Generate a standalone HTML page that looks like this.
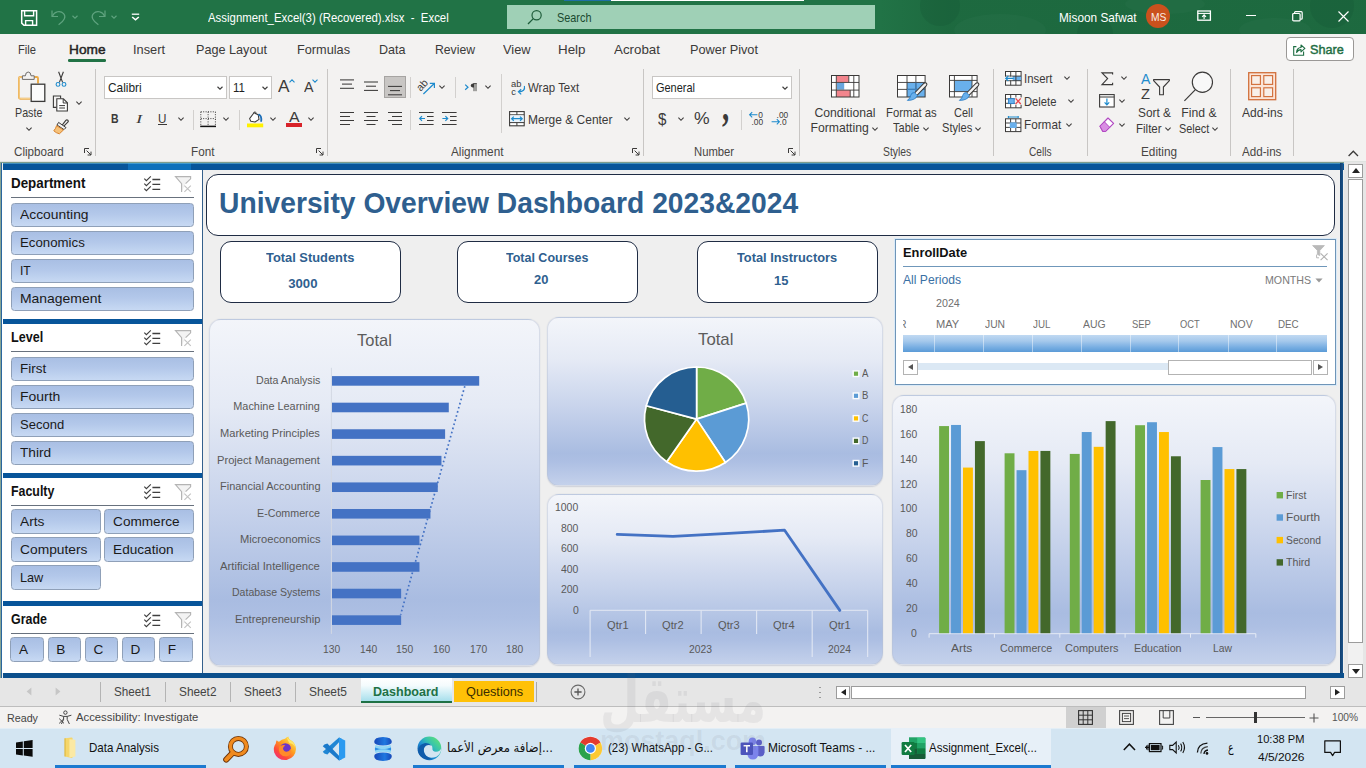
<!DOCTYPE html>
<html><head><meta charset="utf-8"><title>Assignment_Excel(3) (Recovered).xlsx - Excel</title>
<style>
html,body{margin:0;padding:0;}
body{width:1366px;height:768px;overflow:hidden;position:relative;background:#f3f2f1;font-family:"Liberation Sans","Noto Sans CJK SC",sans-serif;}
.t{position:absolute;white-space:pre;line-height:1;transform-origin:0 0;}
svg{overflow:visible}
.sb{position:absolute;border:1px solid #8fa0b8;border-radius:3.5px;box-sizing:border-box;background:linear-gradient(#a9bfe4 0%,#b3c8ea 45%,#c7d9f3 100%);}
.panel{position:absolute;box-sizing:border-box;border-radius:12px;border:1px solid rgba(185,192,210,.45);box-shadow:0 0.6px 1.2px rgba(90,105,140,.22);background:linear-gradient(#f3f5fa 0%,#e5eaf5 25%,#c6d2eb 55%,#a9bce1 81%,#adbfe3 86%,#c4d1eb 100%);}
.kpi{position:absolute;box-sizing:border-box;border:1.6px solid #1f2c44;border-radius:11px;background:#fff;}
.vs{position:absolute;width:1px;background:#c8c6c4;}
</style></head><body>
<div style="position:absolute;left:0.00px;top:0.00px;width:1366.00px;height:34.00px;background:#217346;"></div>
<div style="position:absolute;left:880.00px;top:0.00px;width:486.00px;height:34.00px;background:linear-gradient(90deg,rgba(24,92,54,0) 0%,rgba(24,92,54,.42) 14%,rgba(24,92,54,.42) 100%);"></div>
<svg style="position:absolute;left:880.00px;top:0.00px;overflow:hidden;" width="486" height="34" viewBox="0 0 486 34"><g fill="#256f47" opacity="0.5"><ellipse cx="120" cy="30" rx="46" ry="16"/><ellipse cx="285" cy="4" rx="40" ry="10"/><ellipse cx="395" cy="30" rx="36" ry="12"/></g><g fill="#185a36" opacity="0.35"><circle cx="60" cy="6" r="20"/><circle cx="215" cy="34" r="18"/><circle cx="452" cy="6" r="22"/></g></svg>
<div style="position:absolute;left:564.00px;top:0.00px;width:47.00px;height:1.00px;background:#1f6fa5;"></div>
<div style="position:absolute;left:611.00px;top:0.00px;width:193.00px;height:1.00px;background:#ffffff;"></div>
<svg style="position:absolute;left:20.00px;top:9.00px;" width="18" height="18" viewBox="0 0 18 18"><path d="M1.7 1.7 H16.6 V16.3 H3.9 L1.7 14.1 Z" fill="none" stroke="#fff" stroke-width="1.5" stroke-linejoin="miter"/><path d="M4.6 1.7 V6.8 H13.6 V1.7" fill="none" stroke="#fff" stroke-width="1.4"/><path d="M5.6 16.3 V11.6 H12.6 V16.3" fill="none" stroke="#fff" stroke-width="1.4"/></svg>
<svg style="position:absolute;left:50.00px;top:8.00px;" width="18" height="18" viewBox="0 0 18 18"><path d="M2 2.5 V8.5 H8" fill="none" stroke="#5fa37f" stroke-width="1.2"/><path d="M2.3 8.2 C4.5 3.2 10.5 2.2 13.6 5.6 C16.3 8.6 14.6 12.6 8.6 16.8" fill="none" stroke="#5fa37f" stroke-width="1.2"/></svg>
<svg style="position:absolute;left:69.50px;top:12.50px;" width="10" height="8" viewBox="0 0 10 8"><path d="M2.5 2.75 L5 5.25 L7.5 2.75" fill="none" stroke="#5fa37f" stroke-width="1.1"/></svg>
<svg style="position:absolute;left:89.00px;top:8.00px;" width="18" height="18" viewBox="0 0 18 18"><path d="M16 2.5 V8.5 H10" fill="none" stroke="#5fa37f" stroke-width="1.2"/><path d="M15.7 8.2 C13.5 3.2 7.5 2.2 4.4 5.6 C1.7 8.6 3.4 12.6 9.4 16.8" fill="none" stroke="#5fa37f" stroke-width="1.2"/></svg>
<svg style="position:absolute;left:108.50px;top:12.50px;" width="10" height="8" viewBox="0 0 10 8"><path d="M2.5 2.75 L5 5.25 L7.5 2.75" fill="none" stroke="#5fa37f" stroke-width="1.1"/></svg>
<svg style="position:absolute;left:130.00px;top:12.00px;" width="11" height="11" viewBox="0 0 11 11"><path d="M1.8 2.2 H9.2" stroke="#fff" stroke-width="1.3"/><path d="M2.2 5 L5.5 7.8 L8.8 5" fill="none" stroke="#fff" stroke-width="1.6"/></svg>
<span class="t" style="left:207.50px;top:12.00px;font-size:12.2px;color:#fff;transform:scaleX(0.9354);">Assignment_Excel(3) (Recovered).xlsx  -  Excel</span>
<div style="position:absolute;left:507.00px;top:5.00px;width:368.00px;height:24.00px;background:#9fd0b6;"></div>
<svg style="position:absolute;left:527.00px;top:9.00px;" width="16" height="16" viewBox="0 0 16 16"><circle cx="9.6" cy="6.2" r="4.6" fill="none" stroke="#1e5c3a" stroke-width="1.2"/><path d="M6.3 9.6 L1 15" stroke="#1e5c3a" stroke-width="1.3"/></svg>
<span class="t" style="left:557.00px;top:12.00px;font-size:12.2px;color:#1a4a30;transform:scaleX(0.8925);">Search</span>
<span class="t" style="left:1059.00px;top:12.00px;font-size:12.2px;color:#fff;transform:scaleX(0.9698);">Misoon Safwat</span>
<div style="position:absolute;left:1146.30px;top:4.40px;width:24.00px;height:24.00px;border-radius:50%;background:#ca511d;"></div>
<span class="t" style="left:1150.60px;top:12.00px;font-size:11.4px;color:#fbeee6;transform:scaleX(0.9005);">MS</span>
<svg style="position:absolute;left:1197.40px;top:10.20px;" width="15" height="12" viewBox="0 0 15 12"><rect x=".8" y="1" width="12.6" height="9.2" fill="none" stroke="#fff" stroke-width="1.3"/><path d="M.8 3.4 H13.4" stroke="#fff" stroke-width="1.1"/><path d="M7.1 9 V5.2 M5.2 6.8 L7.1 4.9 L9 6.8" fill="none" stroke="#fff" stroke-width="1.1"/></svg>
<div style="position:absolute;left:1246.00px;top:15.20px;width:10.00px;height:1.20px;background:#fff;"></div>
<svg style="position:absolute;left:1291.60px;top:10.80px;" width="11" height="11" viewBox="0 0 11 11"><rect x=".7" y="2.5" width="7.4" height="7.4" rx="1" fill="none" stroke="#fff" stroke-width="1.2"/><path d="M2.6 2.4 V1.6 Q2.6 .7 3.5 .7 H9.2 Q10.2 .7 10.2 1.7 V7.2 Q10.2 8.1 9.3 8.1 H8.4" fill="none" stroke="#fff" stroke-width="1.2"/></svg>
<svg style="position:absolute;left:1337.50px;top:10.80px;" width="11" height="11" viewBox="0 0 11 11"><path d="M.5 .5 L10.5 10.5 M10.5 .5 L.5 10.5" stroke="#fff" stroke-width="1.15"/></svg>
<span class="t" style="left:17.50px;top:43.00px;font-size:13px;color:#3b3a39;transform:scaleX(0.8593);">File</span>
<span class="t" style="left:68.50px;top:43.00px;font-size:13px;color:#252423;transform:scaleX(1.0525);-webkit-text-stroke:0.45px #252423;">Home</span>
<span class="t" style="left:133.00px;top:43.00px;font-size:13px;color:#3b3a39;transform:scaleX(0.9842);">Insert</span>
<span class="t" style="left:196.00px;top:43.00px;font-size:13px;color:#3b3a39;transform:scaleX(0.9725);">Page Layout</span>
<span class="t" style="left:297.00px;top:43.00px;font-size:13px;color:#3b3a39;transform:scaleX(0.9782);">Formulas</span>
<span class="t" style="left:379.00px;top:43.00px;font-size:13px;color:#3b3a39;transform:scaleX(0.9650);">Data</span>
<span class="t" style="left:435.00px;top:43.00px;font-size:13px;color:#3b3a39;transform:scaleX(0.9384);">Review</span>
<span class="t" style="left:502.50px;top:43.00px;font-size:13px;color:#3b3a39;transform:scaleX(0.9841);">View</span>
<span class="t" style="left:557.50px;top:43.00px;font-size:13px;color:#3b3a39;transform:scaleX(1.0285);">Help</span>
<span class="t" style="left:614.00px;top:43.00px;font-size:13px;color:#3b3a39;transform:scaleX(1.0267);">Acrobat</span>
<span class="t" style="left:690.00px;top:43.00px;font-size:13px;color:#3b3a39;transform:scaleX(0.9803);">Power Pivot</span>
<div style="position:absolute;left:68.00px;top:59.00px;width:38.00px;height:2.60px;background:#217346;border-radius:1.3px;"></div>
<div style="position:absolute;left:1286.20px;top:36.80px;width:67.60px;height:24.00px;box-sizing:border-box;border:1px solid #9a9896;border-radius:4px;background:#fff;"></div>
<svg style="position:absolute;left:1293.20px;top:42.60px;" width="13" height="13" viewBox="0 0 13 13"><path d="M3.4 3.6 H.7 V12.2 H10.6 V8.4" fill="none" stroke="#1e6e43" stroke-width="1.1"/><path d="M3.6 9.4 C3.8 6.2 5.6 4.6 8 4.5 V2 L11.9 5.4 L8 8.8 V6.6 C6 6.6 4.6 7.6 3.6 9.4 Z" fill="none" stroke="#1e6e43" stroke-width="1.1" stroke-linejoin="round"/></svg>
<span class="t" style="left:1310.00px;top:43.00px;font-size:13.2px;color:#1e6e43;transform:scaleX(0.9595);-webkit-text-stroke:0.45px #1e6e43;">Share</span>
<div style="position:absolute;left:94.80px;top:68.50px;width:1.00px;height:87.00px;background:#c8c6c4;"></div>
<div style="position:absolute;left:326.80px;top:68.50px;width:1.00px;height:87.00px;background:#c8c6c4;"></div>
<div style="position:absolute;left:642.90px;top:68.50px;width:1.00px;height:87.00px;background:#c8c6c4;"></div>
<div style="position:absolute;left:799.00px;top:68.50px;width:1.00px;height:87.00px;background:#c8c6c4;"></div>
<div style="position:absolute;left:993.10px;top:68.50px;width:1.00px;height:87.00px;background:#c8c6c4;"></div>
<div style="position:absolute;left:1087.20px;top:68.50px;width:1.00px;height:87.00px;background:#c8c6c4;"></div>
<div style="position:absolute;left:1229.80px;top:68.50px;width:1.00px;height:87.00px;background:#c8c6c4;"></div>
<div style="position:absolute;left:1292.80px;top:68.50px;width:1.00px;height:87.00px;background:#c8c6c4;"></div>
<span class="t" style="left:14.40px;top:146.00px;font-size:12px;color:#484644;transform:scaleX(0.9695);">Clipboard</span>
<span class="t" style="left:191.10px;top:146.00px;font-size:12px;color:#484644;transform:scaleX(0.9745);">Font</span>
<span class="t" style="left:451.20px;top:146.00px;font-size:12px;color:#484644;transform:scaleX(0.9838);">Alignment</span>
<span class="t" style="left:693.50px;top:146.00px;font-size:12px;color:#484644;transform:scaleX(0.9395);">Number</span>
<span class="t" style="left:882.50px;top:146.00px;font-size:12px;color:#484644;transform:scaleX(0.8630);">Styles</span>
<span class="t" style="left:1028.50px;top:146.00px;font-size:12px;color:#484644;transform:scaleX(0.8473);">Cells</span>
<span class="t" style="left:1140.60px;top:146.00px;font-size:12px;color:#484644;transform:scaleX(0.9811);">Editing</span>
<span class="t" style="left:1242.40px;top:146.00px;font-size:12px;color:#484644;transform:scaleX(0.9683);">Add-ins</span>
<svg style="position:absolute;left:84.40px;top:148.20px;" width="8" height="8" viewBox="0 0 8 8"><path d="M.5 5 V.5 H5" fill="none" stroke="#3b3a39" stroke-width="1"/><path d="M2.6 2.6 L7 7 M7 3.6 V7 H3.6" fill="none" stroke="#3b3a39" stroke-width="1"/></svg>
<svg style="position:absolute;left:315.80px;top:148.20px;" width="8" height="8" viewBox="0 0 8 8"><path d="M.5 5 V.5 H5" fill="none" stroke="#3b3a39" stroke-width="1"/><path d="M2.6 2.6 L7 7 M7 3.6 V7 H3.6" fill="none" stroke="#3b3a39" stroke-width="1"/></svg>
<svg style="position:absolute;left:631.80px;top:148.20px;" width="8" height="8" viewBox="0 0 8 8"><path d="M.5 5 V.5 H5" fill="none" stroke="#3b3a39" stroke-width="1"/><path d="M2.6 2.6 L7 7 M7 3.6 V7 H3.6" fill="none" stroke="#3b3a39" stroke-width="1"/></svg>
<svg style="position:absolute;left:787.80px;top:148.20px;" width="8" height="8" viewBox="0 0 8 8"><path d="M.5 5 V.5 H5" fill="none" stroke="#3b3a39" stroke-width="1"/><path d="M2.6 2.6 L7 7 M7 3.6 V7 H3.6" fill="none" stroke="#3b3a39" stroke-width="1"/></svg>
<svg style="position:absolute;left:1347.50px;top:150.20px;" width="11" height="7" viewBox="0 0 11 7"><path d="M.6 6 L5.3 1.2 L10 6" fill="none" stroke="#3b3a39" stroke-width="1.3"/></svg>
<svg style="position:absolute;left:17.00px;top:71.00px;" width="29" height="31" viewBox="0 0 29 31"><path d="M5.6 6 H3.2 Q2 6 2 7.2 V26.6 Q2 27.8 3.2 27.8 H13.4" fill="none" stroke="#ecab47" stroke-width="1.9"/><path d="M17 6 H19.8 Q21 6 21 7.2 V12.6" fill="none" stroke="#ecab47" stroke-width="1.9"/><path d="M5.6 6.1 H3.4 Q2.2 6.1 2.2 7.3 V26.4 Q2.2 27.6 3.4 27.6 H13.4" fill="none" stroke="#fbe2b0" stroke-width=".7"/>
<path d="M5.4 8.4 V4.8 H8.4 Q8.6 1 11.2 1 Q13.8 1 14 4.8 H17.2 V8.4 Z" fill="#f3f2f1" stroke="#6e6c6a" stroke-width="1" stroke-linejoin="round"/>
<rect x="14.2" y="13.2" width="13.6" height="17.2" fill="#fbfbfb" stroke="#3b3a39" stroke-width="1.3"/></svg>
<span class="t" style="left:15.40px;top:107.00px;font-size:12.2px;color:#3b3a39;transform:scaleX(0.8783);">Paste</span>
<svg style="position:absolute;left:23.60px;top:124.60px;" width="10" height="8" viewBox="0 0 10 8"><path d="M2.4 2.7 L5 5.3 L7.6 2.7" fill="none" stroke="#3b3a39" stroke-width="1.1"/></svg>
<svg style="position:absolute;left:55.00px;top:71.00px;" width="12" height="17" viewBox="0 0 12 17"><path d="M3.6 .8 L7.6 11.4 M8.4 .8 L4.4 11.4" stroke="#3b3a39" stroke-width="1.1" fill="none"/><circle cx="3" cy="13.4" r="1.9" fill="none" stroke="#1e8bcd" stroke-width="1.1"/><circle cx="9" cy="13.4" r="1.9" fill="none" stroke="#1e8bcd" stroke-width="1.1"/></svg>
<svg style="position:absolute;left:52.00px;top:94.50px;" width="17" height="17" viewBox="0 0 17 17"><path d="M4.6 12.4 H1.4 V1 H8.6 V3.6" fill="none" stroke="#3b3a39" stroke-width="1.1"/><path d="M4.8 3.8 H11.4 L15.4 7.8 V16 H4.8 Z" fill="#fff" stroke="#3b3a39" stroke-width="1.1"/><path d="M11.2 4 V8 H15.2" fill="none" stroke="#3b3a39" stroke-width="1"/><path d="M7.2 10.6 H13 M7.2 13 H13" stroke="#3b3a39" stroke-width="1"/></svg>
<svg style="position:absolute;left:73.50px;top:99.00px;" width="10" height="8" viewBox="0 0 10 8"><path d="M2.4 2.7 L5 5.3 L7.6 2.7" fill="none" stroke="#3b3a39" stroke-width="1.1"/></svg>
<svg style="position:absolute;left:53.00px;top:118.50px;" width="17" height="16" viewBox="0 0 17 16"><path d="M9.2 6.2 L12.8 1.4 Q13.8 .4 14.8 1.2 Q15.8 2.2 14.8 3.2 L10.6 7.4" fill="none" stroke="#3b3a39" stroke-width="1.1"/><path d="M5.6 3.4 L13 8.6 L11 10.6 L4 6 Z" fill="#f3f2f1" stroke="#3b3a39" stroke-width="1"/><path d="M3.6 6.6 L10.4 11 L6.4 14.8 Q3 14 .8 11.8 Q2.8 9.6 3.6 6.6 Z" fill="#f6c27a" stroke="#d9822b" stroke-width="1"/></svg>
<div style="position:absolute;left:104.30px;top:76.40px;width:122.40px;height:22.40px;box-sizing:border-box;border:1px solid #c8c6c4;background:#fff;"></div>
<span class="t" style="left:107.60px;top:82.00px;font-size:12.2px;color:#201f1e;transform:scaleX(0.9718);">Calibri</span>
<svg style="position:absolute;left:215.20px;top:84.00px;" width="10" height="8" viewBox="0 0 10 8"><path d="M2.5 2.75 L5 5.25 L7.5 2.75" fill="none" stroke="#3b3a39" stroke-width="1.1"/></svg>
<div style="position:absolute;left:229.30px;top:76.40px;width:42.50px;height:22.40px;box-sizing:border-box;border:1px solid #c8c6c4;background:#fff;"></div>
<span class="t" style="left:232.70px;top:82.00px;font-size:12.2px;color:#201f1e;transform:scaleX(0.9396);">11</span>
<svg style="position:absolute;left:260.40px;top:84.00px;" width="10" height="8" viewBox="0 0 10 8"><path d="M2.5 2.75 L5 5.25 L7.5 2.75" fill="none" stroke="#3b3a39" stroke-width="1.1"/></svg>
<span class="t" style="left:277.60px;top:78.00px;font-size:17px;color:#3b3a39;transform:scaleX(1.0142);">A</span>
<svg style="position:absolute;left:288.50px;top:78.50px;" width="6" height="4" viewBox="0 0 6 4"><path d="M.5 3.4 L3 .8 L5.5 3.4" fill="none" stroke="#1e8bcd" stroke-width="1.1"/></svg>
<span class="t" style="left:303.80px;top:80.00px;font-size:14px;color:#3b3a39;transform:scaleX(1.0173);">A</span>
<svg style="position:absolute;left:312.20px;top:78.80px;" width="6" height="4" viewBox="0 0 6 4"><path d="M.5 .6 L3 3.2 L5.5 .6" fill="none" stroke="#1e8bcd" stroke-width="1.1"/></svg>
<span class="t" style="left:111.40px;top:112.00px;font-size:13.2px;color:#3b3a39;font-weight:bold;transform:scaleX(0.7972);">B</span>
<span class="t" style="left:136.20px;top:112.00px;font-size:13.4px;color:#3b3a39;font-style:italic;transform:scaleX(1.3968);font-family:&quot;Liberation Serif&quot;,serif;">I</span>
<span class="t" style="left:158.20px;top:112.00px;font-size:13px;color:#3b3a39;transform:scaleX(0.8947);">U</span>
<div style="position:absolute;left:158.00px;top:124.20px;width:8.80px;height:1.00px;background:#3b3a39;"></div>
<svg style="position:absolute;left:175.80px;top:115.20px;" width="10" height="8" viewBox="0 0 10 8"><path d="M2.4 2.7 L5 5.3 L7.6 2.7" fill="none" stroke="#3b3a39" stroke-width="1.1"/></svg>
<div style="position:absolute;left:193.00px;top:109.50px;width:1.00px;height:20.00px;background:#d2d0ce;"></div>
<svg style="position:absolute;left:200.40px;top:110.80px;" width="17" height="17" viewBox="0 0 17 17"><path d="M.8 .8 H15.4 M.8 .8 V15 M15.4 .8 V15 M8.1 .8 V15 M.8 7.6 H15.4" stroke="#3b3a39" stroke-width="1" stroke-dasharray="1 1.4" fill="none"/><path d="M.2 15.4 H16" stroke="#111" stroke-width="1.5"/></svg>
<svg style="position:absolute;left:221.20px;top:115.20px;" width="10" height="8" viewBox="0 0 10 8"><path d="M2.4 2.7 L5 5.3 L7.6 2.7" fill="none" stroke="#3b3a39" stroke-width="1.1"/></svg>
<div style="position:absolute;left:239.00px;top:109.50px;width:1.00px;height:20.00px;background:#d2d0ce;"></div>
<svg style="position:absolute;left:247.00px;top:110.50px;" width="17" height="17" viewBox="0 0 17 17"><path d="M2.6 7.6 L7 1.8 L11.2 3.8 L12 8.4 L8 11 L3.8 10.2 Z" fill="#fff" stroke="#3b3a39" stroke-width="1.05" stroke-linejoin="round"/><path d="M6.6 2.4 Q7 .4 8.4 .9 Q9.4 1.6 8.6 3" fill="none" stroke="#3b3a39" stroke-width=".9"/><path d="M12 3.6 Q14.8 5.2 14.2 10" fill="none" stroke="#1e6fb8" stroke-width="1.8" stroke-linecap="round"/><rect x="0" y="12.5" width="16.2" height="3.8" fill="#fff100"/></svg>
<svg style="position:absolute;left:267.80px;top:115.20px;" width="10" height="8" viewBox="0 0 10 8"><path d="M2.4 2.7 L5 5.3 L7.6 2.7" fill="none" stroke="#3b3a39" stroke-width="1.1"/></svg>
<span class="t" style="left:289.00px;top:110.00px;font-size:14.6px;color:#3b3a39;transform:scaleX(1.0884);">A</span>
<div style="position:absolute;left:286.20px;top:123.00px;width:15.80px;height:3.80px;background:#d8232a;"></div>
<svg style="position:absolute;left:306.40px;top:115.20px;" width="10" height="8" viewBox="0 0 10 8"><path d="M2.4 2.7 L5 5.3 L7.6 2.7" fill="none" stroke="#3b3a39" stroke-width="1.1"/></svg>
<svg style="position:absolute;left:340.00px;top:76.00px;" width="15" height="22" viewBox="0 0 15 22"><path d="M0.0 3.9 H14.0" stroke="#3b3a39" stroke-width="1.05"/><path d="M2.0 8.1 H12.0" stroke="#3b3a39" stroke-width="1.05"/><path d="M0.0 12.3 H14.0" stroke="#3b3a39" stroke-width="1.05"/></svg>
<svg style="position:absolute;left:364.00px;top:76.00px;" width="15" height="22" viewBox="0 0 15 22"><path d="M0.0 6 H14.0" stroke="#3b3a39" stroke-width="1.05"/><path d="M2.0 10.2 H12.0" stroke="#3b3a39" stroke-width="1.05"/><path d="M0.0 14.4 H14.0" stroke="#3b3a39" stroke-width="1.05"/></svg>
<div style="position:absolute;left:384.30px;top:76.00px;width:21.60px;height:22.30px;box-sizing:border-box;background:#c8c6c4;border:1px solid #a6a4a2;"></div>
<svg style="position:absolute;left:388.00px;top:76.00px;" width="15" height="22" viewBox="0 0 15 22"><path d="M0.0 10.4 H14.0" stroke="#3b3a39" stroke-width="1.05"/><path d="M2.0 14.6 H12.0" stroke="#3b3a39" stroke-width="1.05"/><path d="M0.0 18.8 H14.0" stroke="#3b3a39" stroke-width="1.05"/></svg>
<div style="position:absolute;left:410.00px;top:77.00px;width:1.00px;height:20.50px;background:#d2d0ce;"></div>
<svg style="position:absolute;left:418.00px;top:78.50px;" width="18" height="17" viewBox="0 0 18 17"><text x="-1.4" y="9.4" font-size="10.4" font-family="Liberation Sans,sans-serif" fill="#3b3a39" transform="rotate(-48 4.6 6.4)">ab</text><path d="M5.4 15 L16 4.8 M11.8 4.4 H16.4 V9" fill="none" stroke="#1e8bcd" stroke-width="1.2"/></svg>
<svg style="position:absolute;left:436.60px;top:83.40px;" width="10" height="8" viewBox="0 0 10 8"><path d="M2.4 2.7 L5 5.3 L7.6 2.7" fill="none" stroke="#3b3a39" stroke-width="1.1"/></svg>
<div style="position:absolute;left:455.00px;top:77.00px;width:1.00px;height:20.50px;background:#d2d0ce;"></div>
<svg style="position:absolute;left:464.00px;top:81.00px;" width="14" height="12" viewBox="0 0 14 12"><path d="M1.2 3.6 L4 6.2 L1.2 8.8" fill="none" stroke="#1e8bcd" stroke-width="1.2"/><path d="M10 2.6 V10.2 M12 2.6 V10.2 M12.8 2.6 H9.4" fill="none" stroke="#3b3a39" stroke-width=".9"/><path d="M10 2.6 H9.2 Q6.8 2.6 6.8 4.6 Q6.8 6.6 10 6.6 Z" fill="#3b3a39"/></svg>
<svg style="position:absolute;left:483.40px;top:83.40px;" width="10" height="8" viewBox="0 0 10 8"><path d="M2.4 2.7 L5 5.3 L7.6 2.7" fill="none" stroke="#3b3a39" stroke-width="1.1"/></svg>
<div style="position:absolute;left:501.00px;top:74.00px;width:1.00px;height:58.50px;background:#d2d0ce;"></div>
<svg style="position:absolute;left:340.00px;top:110.00px;" width="15" height="17" viewBox="0 0 15 17"><path d="M0 2.5 H14" stroke="#3b3a39" stroke-width="1.05"/><path d="M0 6.5 H10" stroke="#3b3a39" stroke-width="1.05"/><path d="M0 10.5 H14" stroke="#3b3a39" stroke-width="1.05"/><path d="M0 14.5 H10" stroke="#3b3a39" stroke-width="1.05"/></svg>
<svg style="position:absolute;left:364.00px;top:110.00px;" width="15" height="17" viewBox="0 0 15 17"><path d="M0.0 2.5 H14.0" stroke="#3b3a39" stroke-width="1.05"/><path d="M2.5 6.5 H11.5" stroke="#3b3a39" stroke-width="1.05"/><path d="M0.0 10.5 H14.0" stroke="#3b3a39" stroke-width="1.05"/><path d="M2.5 14.5 H11.5" stroke="#3b3a39" stroke-width="1.05"/></svg>
<svg style="position:absolute;left:388.00px;top:110.00px;" width="15" height="17" viewBox="0 0 15 17"><path d="M0 2.5 H14" stroke="#3b3a39" stroke-width="1.05"/><path d="M4 6.5 H14" stroke="#3b3a39" stroke-width="1.05"/><path d="M0 10.5 H14" stroke="#3b3a39" stroke-width="1.05"/><path d="M4 14.5 H14" stroke="#3b3a39" stroke-width="1.05"/></svg>
<div style="position:absolute;left:410.00px;top:109.50px;width:1.00px;height:20.00px;background:#d2d0ce;"></div>
<svg style="position:absolute;left:418.60px;top:110.00px;" width="15" height="17" viewBox="0 0 15 17"><path d="M0 2.5 H14.6 M8 6.5 H14.6 M8 10.5 H14.6 M0 14.5 H14.6" stroke="#3b3a39" stroke-width="1.05"/><path d="M6 8.5 H.8 M3 6.2 L.7 8.5 L3 10.8" fill="none" stroke="#1e8bcd" stroke-width="1.2"/></svg>
<svg style="position:absolute;left:442.40px;top:110.00px;" width="15" height="17" viewBox="0 0 15 17"><path d="M0 2.5 H14.6 M8 6.5 H14.6 M8 10.5 H14.6 M0 14.5 H14.6" stroke="#3b3a39" stroke-width="1.05"/><path d="M.4 8.5 H5.6 M3.4 6.2 L5.7 8.5 L3.4 10.8" fill="none" stroke="#1e8bcd" stroke-width="1.2"/></svg>
<svg style="position:absolute;left:511.00px;top:79.50px;" width="15" height="16" viewBox="0 0 15 16"><text x="0" y="6.8" font-size="9.4" font-family="Liberation Sans,sans-serif" fill="#3b3a39">ab</text><text x="0.2" y="15" font-size="9.4" font-family="Liberation Sans,sans-serif" fill="#3b3a39">c</text><path d="M13.4 6 Q14.6 11.6 7.6 11.8 M10.2 9.2 L7.4 11.8 L10.2 14.4" fill="none" stroke="#1e8bcd" stroke-width="1.2"/></svg>
<span class="t" style="left:528.40px;top:82.00px;font-size:12.2px;color:#3b3a39;transform:scaleX(0.9399);">Wrap Text</span>
<svg style="position:absolute;left:508.80px;top:111.00px;" width="16" height="16" viewBox="0 0 16 16"><rect x=".6" y=".6" width="14.6" height="14.2" fill="#fff" stroke="#3b3a39" stroke-width="1.1"/><path d="M.6 3.8 H15.2 M.6 11.6 H15.2 M7.9 .6 V3.8 M7.9 11.6 V14.8" stroke="#3b3a39" stroke-width="1"/><rect x="1.2" y="4.4" width="13.4" height="6.6" fill="#e8f3fc"/><path d="M2.6 7.7 H13.2 M4.8 5.6 L2.6 7.7 L4.8 9.8 M11 5.6 L13.2 7.7 L11 9.8" fill="none" stroke="#1e8bcd" stroke-width="1.2"/></svg>
<span class="t" style="left:528.40px;top:114.00px;font-size:12.2px;color:#3b3a39;transform:scaleX(0.9824);">Merge &amp; Center</span>
<svg style="position:absolute;left:621.50px;top:115.40px;" width="10" height="8" viewBox="0 0 10 8"><path d="M2.4 2.7 L5 5.3 L7.6 2.7" fill="none" stroke="#3b3a39" stroke-width="1.1"/></svg>
<div style="position:absolute;left:651.90px;top:76.40px;width:139.80px;height:22.40px;box-sizing:border-box;border:1px solid #c8c6c4;background:#fff;"></div>
<span class="t" style="left:655.80px;top:82.00px;font-size:12.2px;color:#201f1e;transform:scaleX(0.8985);">General</span>
<svg style="position:absolute;left:780.20px;top:84.00px;" width="10" height="8" viewBox="0 0 10 8"><path d="M2.5 2.75 L5 5.25 L7.5 2.75" fill="none" stroke="#3b3a39" stroke-width="1.1"/></svg>
<span class="t" style="left:658.00px;top:111.00px;font-size:17px;color:#3b3a39;transform:scaleX(0.8884);">$</span>
<svg style="position:absolute;left:675.60px;top:115.40px;" width="10" height="8" viewBox="0 0 10 8"><path d="M2.4 2.7 L5 5.3 L7.6 2.7" fill="none" stroke="#3b3a39" stroke-width="1.1"/></svg>
<span class="t" style="left:694.00px;top:110.00px;font-size:17px;color:#3b3a39;transform:scaleX(1.0321);">%</span>
<span class="t" style="left:722.40px;top:85.00px;font-size:42px;color:#3b3a39;font-weight:bold;transform:scaleX(0.6856);font-family:&quot;Liberation Serif&quot;,serif;">,</span>
<div style="position:absolute;left:741.00px;top:109.50px;width:1.00px;height:20.00px;background:#d2d0ce;"></div>
<svg style="position:absolute;left:748.50px;top:110.50px;" width="16" height="15" viewBox="0 0 16 15"><path d="M8.4 3.8 H.6 M3.2 1.2 L.6 3.8 L3.2 6.4" fill="none" stroke="#1e8bcd" stroke-width="1.05"/><text x="9.2" y="6.6" font-size="8.4" font-family="Liberation Sans,sans-serif" fill="#3b3a39">0</text><text x="2.4" y="14.4" font-size="8.4" font-family="Liberation Sans,sans-serif" fill="#3b3a39">.00</text></svg>
<svg style="position:absolute;left:772.40px;top:110.50px;" width="16" height="15" viewBox="0 0 16 15"><text x="4.6" y="6.6" font-size="8.4" font-family="Liberation Sans,sans-serif" fill="#3b3a39">.00</text><path d="M-.4 10.8 H7.4 M4.8 8.2 L7.4 10.8 L4.8 13.4" fill="none" stroke="#1e8bcd" stroke-width="1.05"/><text x="7.6" y="14.4" font-size="8.4" font-family="Liberation Sans,sans-serif" fill="#3b3a39">.0</text></svg>
<svg style="position:absolute;left:831.00px;top:74.80px;" width="28.5" height="22.5" viewBox="0 0 28.5 22.5"><rect x=".5" y=".5" width="27.5" height="21.5" fill="#fff"/><rect x="5.3" y=".5" width="12.4" height="6.9" fill="#f2858d"/><rect x="6" y="8" width="7.2" height="6.6" fill="#69a6de"/><rect x="5.3" y="15.1" width="13.9" height="6.9" fill="#f2858d"/><path d="M.5 7.45 H28 M.5 15.1 H28 M5.3 .5 V22 M22.8 .5 V22 M19.2 15.1 V22 M17.8 .5 V7.4" stroke="#3b3a39" stroke-width=".9" fill="none"/><rect x=".5" y=".5" width="27.5" height="21.5" fill="none" stroke="#3b3a39" stroke-width="1"/></svg>
<span class="t" style="left:814.50px;top:107.00px;font-size:12.2px;color:#3b3a39;">Conditional</span>
<span class="t" style="left:810.50px;top:122.00px;font-size:12.2px;color:#3b3a39;">Formatting</span>
<svg style="position:absolute;left:870.00px;top:124.60px;" width="10" height="8" viewBox="0 0 10 8"><path d="M2.4 2.7 L5 5.3 L7.6 2.7" fill="none" stroke="#3b3a39" stroke-width="1.1"/></svg>
<svg style="position:absolute;left:896.70px;top:74.80px;" width="31" height="28" viewBox="0 0 31 28"><rect x=".5" y=".5" width="27.6" height="21.5" fill="#fff"/><rect x="10" y="7.45" width="18.1" height="14.55" fill="#69b0ec"/><path d="M.5 7.45 H28.1 M.5 14.4 H28.1 M10 .5 V22 M18.9 .5 V22" stroke="#3b3a39" stroke-width=".9" fill="none"/><path d="M10 14.4 H28.1 M18.9 7.45 V22" stroke="#3c8ad0" stroke-width=".9"/><rect x=".5" y=".5" width="27.6" height="21.5" fill="none" stroke="#3b3a39" stroke-width="1"/><g transform="translate(9 7)"><path d="M8.6 11 L18 1.2 Q19.6 .2 20.6 1.4 Q21.4 2.6 20.2 3.8 L11 13.4" fill="#f3f2f1" stroke="#3b3a39" stroke-width="1.05"/><path d="M8.4 10.6 L11.4 13.6 Q9.4 18.4 1.4 18.4 Q4.6 16 4.8 13.2 Q5.4 10.4 8.4 10.6 Z" fill="#69b0ec" stroke="#2b7fc7" stroke-width=".9"/></g></svg>
<span class="t" style="left:885.70px;top:107.00px;font-size:12.2px;color:#3b3a39;transform:scaleX(0.9251);">Format as</span>
<span class="t" style="left:893.00px;top:122.00px;font-size:12.2px;color:#3b3a39;transform:scaleX(0.9051);">Table</span>
<svg style="position:absolute;left:920.60px;top:124.60px;" width="10" height="8" viewBox="0 0 10 8"><path d="M2.4 2.7 L5 5.3 L7.6 2.7" fill="none" stroke="#3b3a39" stroke-width="1.1"/></svg>
<svg style="position:absolute;left:948.80px;top:74.80px;" width="31" height="28" viewBox="0 0 31 28"><rect x=".5" y=".5" width="27.6" height="21.5" fill="#fff"/><rect x="5.4" y="5.4" width="17.6" height="11.2" fill="#69b0ec"/><path d="M.5 5.4 H28.1 M.5 16.6 H28.1 M5.4 .5 V22 M23 .5 V22" stroke="#3b3a39" stroke-width=".9" fill="none"/><rect x=".5" y=".5" width="27.6" height="21.5" fill="none" stroke="#3b3a39" stroke-width="1"/><g transform="translate(9 7)"><path d="M8.6 11 L18 1.2 Q19.6 .2 20.6 1.4 Q21.4 2.6 20.2 3.8 L11 13.4" fill="#f3f2f1" stroke="#3b3a39" stroke-width="1.05"/><path d="M8.4 10.6 L11.4 13.6 Q9.4 18.4 1.4 18.4 Q4.6 16 4.8 13.2 Q5.4 10.4 8.4 10.6 Z" fill="#69b0ec" stroke="#2b7fc7" stroke-width=".9"/></g></svg>
<span class="t" style="left:953.70px;top:107.00px;font-size:12.2px;color:#3b3a39;transform:scaleX(0.8993);">Cell</span>
<span class="t" style="left:942.30px;top:122.00px;font-size:12.2px;color:#3b3a39;transform:scaleX(0.9120);">Styles</span>
<svg style="position:absolute;left:973.40px;top:124.60px;" width="10" height="8" viewBox="0 0 10 8"><path d="M2.4 2.7 L5 5.3 L7.6 2.7" fill="none" stroke="#3b3a39" stroke-width="1.1"/></svg>
<svg style="position:absolute;left:1004.50px;top:70.60px;" width="17" height="15" viewBox="0 0 17 15"><rect x=".5" y=".5" width="15.6" height="13.7" fill="#fff" stroke="#3b3a39" stroke-width="1"/><rect x="7.6" y="5.1" width="8.5" height="4.6" fill="#69b0ec"/><path d="M5.7 .5 V14.2 M10.9 .5 V14.2 M.5 5.1 H16.1 M.5 9.7 H16.1" stroke="#3b3a39" stroke-width=".95"/><rect x="-.3" y="5.7" width="7.6" height="3.4" fill="#f6f9fc"/><path d="M8.6 7.4 H.8 M3.4 4.9 L.8 7.4 L3.4 9.9" fill="none" stroke="#1e8bcd" stroke-width="1.25"/></svg>
<span class="t" style="left:1024.40px;top:73.00px;font-size:12.2px;color:#3b3a39;transform:scaleX(0.9308);">Insert</span>
<svg style="position:absolute;left:1061.80px;top:74.40px;" width="10" height="8" viewBox="0 0 10 8"><path d="M2.4 2.7 L5 5.3 L7.6 2.7" fill="none" stroke="#3b3a39" stroke-width="1.1"/></svg>
<svg style="position:absolute;left:1004.50px;top:93.70px;" width="17" height="15" viewBox="0 0 17 15"><rect x=".5" y=".5" width="15.6" height="13.3" fill="#fff" stroke="#3b3a39" stroke-width="1"/><path d="M5.7 .5 V13.8 M10.9 .5 V13.8 M.5 4.9 H16.1 M.5 9.3 H16.1" stroke="#3b3a39" stroke-width=".95"/><rect x="9.8" y="3.4" width="7.4" height="7.4" fill="#f3f2f1"/><rect x="3.4" y="4.6" width="5.8" height="5" fill="#69b0ec" stroke="#2b7fc7" stroke-width=".9"/><path d="M10.6 4.4 L15.8 10 M15.8 4.4 L10.6 10" stroke="#e8484f" stroke-width="1.3"/></svg>
<span class="t" style="left:1024.40px;top:96.00px;font-size:12.2px;color:#3b3a39;transform:scaleX(0.9216);">Delete</span>
<svg style="position:absolute;left:1065.50px;top:97.40px;" width="10" height="8" viewBox="0 0 10 8"><path d="M2.4 2.7 L5 5.3 L7.6 2.7" fill="none" stroke="#3b3a39" stroke-width="1.1"/></svg>
<svg style="position:absolute;left:1004.70px;top:116.00px;" width="17" height="16" viewBox="0 0 17 16"><path d="M3.4 1 H13.2 M3.4 0 V2.1 M13.2 0 V2.1" stroke="#1e8bcd" stroke-width="1.1" fill="none"/><rect x=".5" y="2.8" width="15.4" height="12.8" fill="#fff" stroke="#3b3a39" stroke-width="1"/><path d="M5.6 2.8 V15.6 M10.8 2.8 V15.6 M.5 7 H15.9 M.5 11.4 H15.9" stroke="#3b3a39" stroke-width=".95"/><rect x="4.8" y="6.4" width="6.8" height="5.6" fill="#69b0ec"/></svg>
<span class="t" style="left:1024.40px;top:119.00px;font-size:12.2px;color:#3b3a39;transform:scaleX(0.9628);">Format</span>
<svg style="position:absolute;left:1063.70px;top:120.60px;" width="10" height="8" viewBox="0 0 10 8"><path d="M2.4 2.7 L5 5.3 L7.6 2.7" fill="none" stroke="#3b3a39" stroke-width="1.1"/></svg>
<svg style="position:absolute;left:1100.50px;top:71.50px;" width="13" height="14" viewBox="0 0 13 14"><path d="M11.6 2.6 V.8 H1 L6.6 6.6 L1 12.6 H11.6 V10.8" fill="none" stroke="#3b3a39" stroke-width="1.15"/></svg>
<svg style="position:absolute;left:1119.30px;top:74.40px;" width="10" height="8" viewBox="0 0 10 8"><path d="M2.4 2.7 L5 5.3 L7.6 2.7" fill="none" stroke="#3b3a39" stroke-width="1.1"/></svg>
<svg style="position:absolute;left:1099.00px;top:94.00px;" width="16" height="14" viewBox="0 0 16 14"><rect x=".6" y=".6" width="14.6" height="12.4" fill="#fff" stroke="#3b3a39" stroke-width="1.1"/><path d="M.6 3 H15.2" stroke="#3b3a39" stroke-width="1"/><path d="M7.9 4.6 V10.6 M5.6 8.4 L7.9 10.8 L10.2 8.4" fill="none" stroke="#1e8bcd" stroke-width="1.2"/></svg>
<svg style="position:absolute;left:1117.40px;top:97.40px;" width="10" height="8" viewBox="0 0 10 8"><path d="M2.4 2.7 L5 5.3 L7.6 2.7" fill="none" stroke="#3b3a39" stroke-width="1.1"/></svg>
<svg style="position:absolute;left:1099.00px;top:116.50px;" width="16" height="15" viewBox="0 0 16 15"><path d="M1 9.2 L9 1 L14.6 6.4 L6.6 14.4 H3.8 Z" fill="#fff" stroke="#b146c2" stroke-width="1.15" stroke-linejoin="round"/><path d="M1 9.2 L5.4 4.8 L10.6 10.2 L6.6 14.4 H3.8 Z" fill="#d98ee3" stroke="#b146c2" stroke-width="1"/></svg>
<svg style="position:absolute;left:1117.40px;top:120.60px;" width="10" height="8" viewBox="0 0 10 8"><path d="M2.4 2.7 L5 5.3 L7.6 2.7" fill="none" stroke="#3b3a39" stroke-width="1.1"/></svg>
<span class="t" style="left:1141.20px;top:72.00px;font-size:14.6px;color:#1e8bcd;transform:scaleX(0.9652);">A</span>
<span class="t" style="left:1141.20px;top:87.00px;font-size:14.6px;color:#3b3a39;transform:scaleX(1.0091);">Z</span>
<svg style="position:absolute;left:1152.60px;top:78.50px;" width="17" height="17" viewBox="0 0 17 17"><path d="M.6 .6 H16.4 V1.6 L10.4 8 V15.8 H6.6 V8 L.6 1.6 Z" fill="none" stroke="#3b3a39" stroke-width="1.1" stroke-linejoin="round"/></svg>
<span class="t" style="left:1138.10px;top:107.00px;font-size:12.2px;color:#3b3a39;transform:scaleX(0.9734);">Sort &amp;</span>
<span class="t" style="left:1136.40px;top:123.00px;font-size:12.2px;color:#3b3a39;transform:scaleX(0.9442);">Filter</span>
<svg style="position:absolute;left:1163.20px;top:124.80px;" width="10" height="8" viewBox="0 0 10 8"><path d="M2.4 2.7 L5 5.3 L7.6 2.7" fill="none" stroke="#3b3a39" stroke-width="1.1"/></svg>
<svg style="position:absolute;left:1184.00px;top:71.00px;" width="30" height="31" viewBox="0 0 30 31"><circle cx="18.4" cy="11.2" r="10.1" fill="#f8f8f8" stroke="#3b3a39" stroke-width="1.15"/><path d="M11.4 18.6 L.4 29.8" stroke="#3b3a39" stroke-width="1.2"/></svg>
<span class="t" style="left:1181.30px;top:107.00px;font-size:12.2px;color:#3b3a39;">Find &amp;</span>
<span class="t" style="left:1178.50px;top:123.00px;font-size:12.2px;color:#3b3a39;transform:scaleX(0.8936);">Select</span>
<svg style="position:absolute;left:1210.40px;top:124.80px;" width="10" height="8" viewBox="0 0 10 8"><path d="M2.4 2.7 L5 5.3 L7.6 2.7" fill="none" stroke="#3b3a39" stroke-width="1.1"/></svg>
<svg style="position:absolute;left:1247.60px;top:71.60px;" width="29" height="29" viewBox="0 0 29 29"><rect x=".7" y=".7" width="27" height="27" fill="#fbe4d7" stroke="#d2703c" stroke-width="1.3"/><g fill="#f8efe9" stroke="#d2703c" stroke-width="1.15"><rect x="3.6" y="3.6" width="8.8" height="8.8"/><rect x="15.8" y="3.6" width="8.8" height="8.8"/><rect x="3.6" y="15.8" width="8.8" height="8.8"/><rect x="15.8" y="15.8" width="8.8" height="8.8"/></g></svg>
<span class="t" style="left:1241.90px;top:107.00px;font-size:12.2px;color:#3b3a39;transform:scaleX(0.9839);">Add-ins</span>
<div style="position:absolute;left:0.00px;top:161.00px;width:1366.00px;height:2.40px;background:#dfe3e0;"></div>
<div style="position:absolute;left:0.00px;top:162.40px;width:1344.00px;height:1.00px;background:#7c9c8d;"></div>
<div style="position:absolute;left:3.00px;top:163.30px;width:1340.50px;height:514.90px;background:#efefef;"></div>
<div style="position:absolute;left:0.00px;top:162.40px;width:1.30px;height:516.00px;background:#86a596;"></div>
<div style="position:absolute;left:1.30px;top:163.30px;width:1.10px;height:515.00px;background:#2a669e;"></div>
<div style="position:absolute;left:3.00px;top:163.30px;width:1340.50px;height:6.30px;background:#07559a;"></div>
<div style="position:absolute;left:128.00px;top:163.30px;width:62.60px;height:6.30px;background:#0d70bb;"></div>
<div style="position:absolute;left:3.00px;top:163.30px;width:1340.50px;height:1.00px;background:#6fc0dc;opacity:.55;"></div>
<div style="position:absolute;left:1339.80px;top:163.30px;width:3.70px;height:515.00px;background:linear-gradient(90deg,#0f3f72,#1f5488);"></div>
<div style="position:absolute;left:3.00px;top:673.30px;width:1340.50px;height:4.90px;background:#0b4f8c;"></div>
<div style="position:absolute;left:1343.50px;top:162.40px;width:22.50px;height:516.00px;background:#e6e6e6;"></div>
<div style="position:absolute;left:1348.00px;top:163.60px;width:15.00px;height:514.60px;background:#f1f1f1;"></div>
<div style="position:absolute;left:1348.00px;top:163.60px;width:15.00px;height:14.00px;box-sizing:border-box;border:1px solid #9c9c9c;background:#fff;"></div>
<svg style="position:absolute;left:1351.50px;top:167.80px;" width="8" height="5" viewBox="0 0 8 5"><path d="M0 5 L4 0 L8 5 Z" fill="#222"/></svg>
<div style="position:absolute;left:1348.00px;top:178.60px;width:15.00px;height:464.00px;box-sizing:border-box;border:1px solid #9c9c9c;background:#fff;"></div>
<div style="position:absolute;left:1348.00px;top:664.40px;width:15.00px;height:14.00px;box-sizing:border-box;border:1px solid #9c9c9c;background:#fff;"></div>
<svg style="position:absolute;left:1351.50px;top:669.20px;" width="8" height="5" viewBox="0 0 8 5"><path d="M0 0 L4 5 L8 0 Z" fill="#222"/></svg>
<div style="position:absolute;left:2.40px;top:169.60px;width:199.90px;height:503.70px;background:#fff;"></div>
<div style="position:absolute;left:202.10px;top:169.60px;width:1.10px;height:503.70px;background:#34608c;"></div>
<div style="position:absolute;left:3.30px;top:319.20px;width:199.00px;height:4.50px;background:#07559a;"></div>
<div style="position:absolute;left:3.30px;top:473.20px;width:199.00px;height:4.50px;background:#07559a;"></div>
<div style="position:absolute;left:3.30px;top:601.20px;width:199.00px;height:4.50px;background:#07559a;"></div>
<span class="t" style="left:11.40px;top:176.00px;font-size:14.2px;color:#111;font-weight:bold;transform:scaleX(0.9429);">Department</span>
<svg style="position:absolute;left:143.80px;top:175.50px;" width="17" height="16" viewBox="0 0 17 16"><g fill="none" stroke="#3f3f3f" stroke-width="1.15"><path d="M.3 2.6 L2.4 4.7 L6.8 .4"/><path d="M.3 7.6 L2.4 9.7 L6.8 5.4"/><path d="M.3 12.6 L2.4 14.7 L6.8 10.4"/><path d="M8.4 3.5 H16.2 M8.4 8.4 H16.2 M8.4 13.4 H16.2" stroke-width="1.3"/></g></svg>
<svg style="position:absolute;left:175.00px;top:175.70px;" width="17" height="17" viewBox="0 0 17 17"><g fill="none" stroke="#b4b4b4" stroke-width="1.15"><path d="M6.6 16 V7.6 L.5 .6 H15.6 V2.8 L10.6 7.6" fill="#f3f3f3"/><path d="M9.4 9.6 L15.8 15.8 M15.8 9.6 L9.4 15.8" stroke="#c2c2c2"/></g></svg>
<div style="position:absolute;left:11.20px;top:197.00px;width:182.60px;height:1.10px;background:#68717d;"></div>
<div class="sb" style="position:absolute;left:11.40px;top:202.60px;width:182.40px;height:24.50px;"></div>
<span class="t" style="left:20.20px;top:208.00px;font-size:13.6px;color:#1a1a1a;transform:scaleX(1.0194);">Accounting</span>
<div class="sb" style="position:absolute;left:11.40px;top:230.60px;width:182.40px;height:24.50px;"></div>
<span class="t" style="left:20.20px;top:236.00px;font-size:13.6px;color:#1a1a1a;transform:scaleX(0.9742);">Economics</span>
<div class="sb" style="position:absolute;left:11.40px;top:258.60px;width:182.40px;height:24.50px;"></div>
<span class="t" style="left:20.20px;top:264.00px;font-size:13.6px;color:#1a1a1a;transform:scaleX(0.8936);">IT</span>
<div class="sb" style="position:absolute;left:11.40px;top:286.60px;width:182.40px;height:24.50px;"></div>
<span class="t" style="left:20.20px;top:292.00px;font-size:13.6px;color:#1a1a1a;transform:scaleX(1.0254);">Management</span>
<span class="t" style="left:11.40px;top:330.00px;font-size:14.2px;color:#111;font-weight:bold;transform:scaleX(0.8868);">Level</span>
<svg style="position:absolute;left:143.80px;top:329.60px;" width="17" height="16" viewBox="0 0 17 16"><g fill="none" stroke="#3f3f3f" stroke-width="1.15"><path d="M.3 2.6 L2.4 4.7 L6.8 .4"/><path d="M.3 7.6 L2.4 9.7 L6.8 5.4"/><path d="M.3 12.6 L2.4 14.7 L6.8 10.4"/><path d="M8.4 3.5 H16.2 M8.4 8.4 H16.2 M8.4 13.4 H16.2" stroke-width="1.3"/></g></svg>
<svg style="position:absolute;left:175.00px;top:329.80px;" width="17" height="17" viewBox="0 0 17 17"><g fill="none" stroke="#b4b4b4" stroke-width="1.15"><path d="M6.6 16 V7.6 L.5 .6 H15.6 V2.8 L10.6 7.6" fill="#f3f3f3"/><path d="M9.4 9.6 L15.8 15.8 M15.8 9.6 L9.4 15.8" stroke="#c2c2c2"/></g></svg>
<div style="position:absolute;left:11.20px;top:351.10px;width:182.60px;height:1.10px;background:#68717d;"></div>
<div class="sb" style="position:absolute;left:11.40px;top:356.60px;width:182.40px;height:24.50px;"></div>
<span class="t" style="left:20.20px;top:362.00px;font-size:13.6px;color:#1a1a1a;transform:scaleX(0.9910);">First</span>
<div class="sb" style="position:absolute;left:11.40px;top:384.60px;width:182.40px;height:24.50px;"></div>
<span class="t" style="left:20.20px;top:390.00px;font-size:13.6px;color:#1a1a1a;transform:scaleX(1.0278);">Fourth</span>
<div class="sb" style="position:absolute;left:11.40px;top:412.60px;width:182.40px;height:24.50px;"></div>
<span class="t" style="left:20.20px;top:418.00px;font-size:13.6px;color:#1a1a1a;transform:scaleX(0.9582);">Second</span>
<div class="sb" style="position:absolute;left:11.40px;top:440.60px;width:182.40px;height:24.50px;"></div>
<span class="t" style="left:20.20px;top:446.00px;font-size:13.6px;color:#1a1a1a;transform:scaleX(1.0069);">Third</span>
<span class="t" style="left:11.40px;top:484.00px;font-size:14.2px;color:#111;font-weight:bold;transform:scaleX(0.8730);">Faculty</span>
<svg style="position:absolute;left:143.80px;top:483.60px;" width="17" height="16" viewBox="0 0 17 16"><g fill="none" stroke="#3f3f3f" stroke-width="1.15"><path d="M.3 2.6 L2.4 4.7 L6.8 .4"/><path d="M.3 7.6 L2.4 9.7 L6.8 5.4"/><path d="M.3 12.6 L2.4 14.7 L6.8 10.4"/><path d="M8.4 3.5 H16.2 M8.4 8.4 H16.2 M8.4 13.4 H16.2" stroke-width="1.3"/></g></svg>
<svg style="position:absolute;left:175.00px;top:483.80px;" width="17" height="17" viewBox="0 0 17 17"><g fill="none" stroke="#b4b4b4" stroke-width="1.15"><path d="M6.6 16 V7.6 L.5 .6 H15.6 V2.8 L10.6 7.6" fill="#f3f3f3"/><path d="M9.4 9.6 L15.8 15.8 M15.8 9.6 L9.4 15.8" stroke="#c2c2c2"/></g></svg>
<div style="position:absolute;left:11.20px;top:505.10px;width:182.60px;height:1.10px;background:#68717d;"></div>
<div class="sb" style="position:absolute;left:11.30px;top:509.40px;width:89.30px;height:24.50px;"></div>
<span class="t" style="left:20.10px;top:515.00px;font-size:13.6px;color:#1a1a1a;transform:scaleX(1.0133);">Arts</span>
<div class="sb" style="position:absolute;left:104.30px;top:509.40px;width:89.50px;height:24.50px;"></div>
<span class="t" style="left:113.10px;top:515.00px;font-size:13.6px;color:#1a1a1a;">Commerce</span>
<div class="sb" style="position:absolute;left:11.30px;top:537.40px;width:89.30px;height:24.50px;"></div>
<span class="t" style="left:20.10px;top:543.00px;font-size:13.6px;color:#1a1a1a;transform:scaleX(1.0148);">Computers</span>
<div class="sb" style="position:absolute;left:104.30px;top:537.40px;width:89.50px;height:24.50px;"></div>
<span class="t" style="left:113.10px;top:543.00px;font-size:13.6px;color:#1a1a1a;">Education</span>
<div class="sb" style="position:absolute;left:11.30px;top:565.40px;width:89.30px;height:24.50px;"></div>
<span class="t" style="left:20.10px;top:571.00px;font-size:13.6px;color:#1a1a1a;transform:scaleX(0.9339);">Law</span>
<span class="t" style="left:11.40px;top:612.00px;font-size:14.2px;color:#111;font-weight:bold;transform:scaleX(0.8772);">Grade</span>
<svg style="position:absolute;left:143.80px;top:611.60px;" width="17" height="16" viewBox="0 0 17 16"><g fill="none" stroke="#3f3f3f" stroke-width="1.15"><path d="M.3 2.6 L2.4 4.7 L6.8 .4"/><path d="M.3 7.6 L2.4 9.7 L6.8 5.4"/><path d="M.3 12.6 L2.4 14.7 L6.8 10.4"/><path d="M8.4 3.5 H16.2 M8.4 8.4 H16.2 M8.4 13.4 H16.2" stroke-width="1.3"/></g></svg>
<svg style="position:absolute;left:175.00px;top:611.80px;" width="17" height="17" viewBox="0 0 17 17"><g fill="none" stroke="#b4b4b4" stroke-width="1.15"><path d="M6.6 16 V7.6 L.5 .6 H15.6 V2.8 L10.6 7.6" fill="#f3f3f3"/><path d="M9.4 9.6 L15.8 15.8 M15.8 9.6 L9.4 15.8" stroke="#c2c2c2"/></g></svg>
<div style="position:absolute;left:11.20px;top:633.10px;width:182.60px;height:1.10px;background:#68717d;"></div>
<div class="sb" style="position:absolute;left:10.40px;top:637.30px;width:33.40px;height:24.50px;"></div>
<span class="t" style="left:19.00px;top:643.00px;font-size:13.6px;color:#1a1a1a;">A</span>
<div class="sb" style="position:absolute;left:47.60px;top:637.30px;width:33.40px;height:24.50px;"></div>
<span class="t" style="left:56.20px;top:643.00px;font-size:13.6px;color:#1a1a1a;">B</span>
<div class="sb" style="position:absolute;left:84.80px;top:637.30px;width:33.40px;height:24.50px;"></div>
<span class="t" style="left:93.40px;top:643.00px;font-size:13.6px;color:#1a1a1a;">C</span>
<div class="sb" style="position:absolute;left:122.00px;top:637.30px;width:33.40px;height:24.50px;"></div>
<span class="t" style="left:130.60px;top:643.00px;font-size:13.6px;color:#1a1a1a;">D</span>
<div class="sb" style="position:absolute;left:159.20px;top:637.30px;width:33.40px;height:24.50px;"></div>
<span class="t" style="left:167.80px;top:643.00px;font-size:13.6px;color:#1a1a1a;">F</span>
<div class="kpi" style="position:absolute;left:206.00px;top:174.40px;width:1129.00px;height:61.20px;border-radius:12px;border-width:1.7px;"></div>
<span class="t" style="left:219.40px;top:188.00px;font-size:29.4px;color:#2f5f8f;font-weight:bold;transform:scaleX(0.9608);">University Overview Dashboard 2023&amp;2024</span>
<div class="kpi" style="position:absolute;left:220.30px;top:240.60px;width:180.40px;height:62.60px;"></div>
<span class="t" style="left:266.00px;top:251.00px;font-size:13.2px;color:#2f5f8f;font-weight:bold;transform:scaleX(0.9748);">Total Students</span>
<span class="t" style="left:288.20px;top:277.00px;font-size:13.2px;color:#2f5f8f;font-weight:bold;">3000</span>
<div class="kpi" style="position:absolute;left:457.30px;top:240.60px;width:180.40px;height:62.60px;"></div>
<span class="t" style="left:506.00px;top:251.00px;font-size:13.2px;color:#2f5f8f;font-weight:bold;transform:scaleX(0.9467);">Total Courses</span>
<span class="t" style="left:533.80px;top:273.00px;font-size:13.2px;color:#2f5f8f;font-weight:bold;transform:scaleX(0.9807);">20</span>
<div class="kpi" style="position:absolute;left:697.20px;top:240.60px;width:180.40px;height:62.60px;"></div>
<span class="t" style="left:737.20px;top:251.00px;font-size:13.2px;color:#2f5f8f;font-weight:bold;transform:scaleX(0.9712);">Total Instructors</span>
<span class="t" style="left:773.80px;top:274.00px;font-size:13.2px;color:#2f5f8f;font-weight:bold;transform:scaleX(0.9807);">15</span>
<div style="position:absolute;left:895.30px;top:239.20px;width:440.60px;height:145.40px;box-sizing:border-box;border:1px solid #6f95b8;box-shadow:0 0 0 1px #d9eaf8;background:#fff;"></div>
<span class="t" style="left:903.00px;top:246.00px;font-size:13.6px;color:#111;font-weight:bold;transform:scaleX(0.9439);">EnrollDate</span>
<svg style="position:absolute;left:1311.50px;top:244.50px;" width="17" height="16" viewBox="0 0 17 16"><g fill="#b9b9b9" stroke="#b9b9b9" stroke-width=".8"><path d="M.6 .6 H12.4 L7.8 5.4 V10.6 L5.4 9.4 V5.4 Z"/></g><path d="M8.6 8.4 L15.6 15.2 M15.6 8.4 L8.6 15.2" stroke="#b0b0b0" stroke-width="1.1"/><path d="M4.6 9.6 V12.8 H7" fill="none" stroke="#b9b9b9" stroke-width="1"/></svg>
<div style="position:absolute;left:903.00px;top:266.00px;width:423.80px;height:1.10px;background:#6f97ba;"></div>
<span class="t" style="left:903.00px;top:274.00px;font-size:12.4px;color:#3a70a4;transform:scaleX(0.9785);">All Periods</span>
<span class="t" style="left:1265.30px;top:275.00px;font-size:11.2px;color:#7a7a7a;transform:scaleX(0.9520);">MONTHS</span>
<svg style="position:absolute;left:1315.00px;top:278.00px;" width="8" height="5" viewBox="0 0 8 5"><path d="M.4 .4 H7.6 L4 4.4 Z" fill="#9a9a9a"/></svg>
<span class="t" style="left:936.20px;top:298.00px;font-size:11px;color:#707070;transform:scaleX(0.9726);">2024</span>
<span class="t" style="left:898.80px;top:319.00px;font-size:11px;color:#707070;transform:scaleX(0.9567);clip-path:inset(0 0 0 55%);">R</span>
<span class="t" style="left:936.20px;top:319.00px;font-size:11px;color:#707070;transform:scaleX(1.0077);">MAY</span>
<span class="t" style="left:984.60px;top:319.00px;font-size:11px;color:#707070;transform:scaleX(0.9351);">JUN</span>
<span class="t" style="left:1032.60px;top:319.00px;font-size:11px;color:#707070;transform:scaleX(0.8895);">JUL</span>
<span class="t" style="left:1082.80px;top:319.00px;font-size:11px;color:#707070;transform:scaleX(0.9481);">AUG</span>
<span class="t" style="left:1131.50px;top:319.00px;font-size:11px;color:#707070;transform:scaleX(0.8586);">SEP</span>
<span class="t" style="left:1179.90px;top:319.00px;font-size:11px;color:#707070;transform:scaleX(0.8484);">OCT</span>
<span class="t" style="left:1230.00px;top:319.00px;font-size:11px;color:#707070;transform:scaleX(0.9481);">NOV</span>
<span class="t" style="left:1277.70px;top:319.00px;font-size:11px;color:#707070;transform:scaleX(0.8913);">DEC</span>
<div style="position:absolute;left:903.00px;top:335.00px;width:423.80px;height:17.20px;background:linear-gradient(#c0d9f2 0%,#a6c9ec 35%,#78aee2 72%,#5b9bd7 100%);"></div>
<div style="position:absolute;left:934.00px;top:335.00px;width:1.00px;height:17.20px;background:rgba(255,255,255,.45);"></div>
<div style="position:absolute;left:983.20px;top:335.00px;width:1.00px;height:17.20px;background:rgba(255,255,255,.45);"></div>
<div style="position:absolute;left:1031.50px;top:335.00px;width:1.00px;height:17.20px;background:rgba(255,255,255,.45);"></div>
<div style="position:absolute;left:1081.40px;top:335.00px;width:1.00px;height:17.20px;background:rgba(255,255,255,.45);"></div>
<div style="position:absolute;left:1130.40px;top:335.00px;width:1.00px;height:17.20px;background:rgba(255,255,255,.45);"></div>
<div style="position:absolute;left:1178.10px;top:335.00px;width:1.00px;height:17.20px;background:rgba(255,255,255,.45);"></div>
<div style="position:absolute;left:1228.30px;top:335.00px;width:1.00px;height:17.20px;background:rgba(255,255,255,.45);"></div>
<div style="position:absolute;left:1276.30px;top:335.00px;width:1.00px;height:17.20px;background:rgba(255,255,255,.45);"></div>
<div style="position:absolute;left:903.00px;top:360.00px;width:14.60px;height:14.60px;box-sizing:border-box;border:1px solid #b3b3b3;background:#fff;"></div>
<svg style="position:absolute;left:908.00px;top:364.30px;" width="5" height="6" viewBox="0 0 5 6"><path d="M5 0 L0 3 L5 6 Z" fill="#555"/></svg>
<div style="position:absolute;left:918.00px;top:363.20px;width:250.20px;height:7.00px;background:#dbe8f4;"></div>
<div style="position:absolute;left:1168.00px;top:360.00px;width:143.60px;height:14.60px;box-sizing:border-box;border:1px solid #b3b3b3;background:#fff;"></div>
<div style="position:absolute;left:1313.00px;top:360.00px;width:14.60px;height:14.60px;box-sizing:border-box;border:1px solid #b3b3b3;background:#fff;"></div>
<svg style="position:absolute;left:1318.00px;top:364.30px;" width="5" height="6" viewBox="0 0 5 6"><path d="M0 0 L5 3 L0 6 Z" fill="#555"/></svg>
<div class="panel" style="position:absolute;left:209.20px;top:318.80px;width:330.40px;height:346.90px;"></div>
<span class="t" style="left:356.90px;top:333.00px;font-size:16.6px;color:#5c5c5c;transform:scaleX(0.9924);">Total</span>
<span class="t" style="left:255.90px;top:375.00px;font-size:10.9px;color:#595959;transform:scaleX(0.9752);">Data Analysis</span>
<span class="t" style="left:233.30px;top:401.00px;font-size:10.9px;color:#595959;">Machine Learning</span>
<span class="t" style="left:220.30px;top:428.00px;font-size:10.9px;color:#595959;transform:scaleX(1.0189);">Marketing Principles</span>
<span class="t" style="left:217.30px;top:455.00px;font-size:10.9px;color:#595959;transform:scaleX(1.0241);">Project Management</span>
<span class="t" style="left:219.70px;top:481.00px;font-size:10.9px;color:#595959;transform:scaleX(1.0062);">Financial Accounting</span>
<span class="t" style="left:257.30px;top:508.00px;font-size:10.9px;color:#595959;transform:scaleX(0.9813);">E-Commerce</span>
<span class="t" style="left:239.70px;top:534.00px;font-size:10.9px;color:#595959;transform:scaleX(1.0235);">Microeconomics</span>
<span class="t" style="left:220.30px;top:561.00px;font-size:10.9px;color:#595959;transform:scaleX(1.0381);">Artificial Intelligence</span>
<span class="t" style="left:231.90px;top:587.00px;font-size:10.9px;color:#595959;transform:scaleX(0.9663);">Database Systems</span>
<span class="t" style="left:234.90px;top:614.00px;font-size:10.9px;color:#595959;transform:scaleX(1.0213);">Entrepreneurship</span>
<svg style="position:absolute;left:0.00px;top:0.00px;pointer-events:none;" width="1366" height="768" viewBox="0 0 1366 768"><path d="M331.4 367.8 V633.9" stroke="#d3d8e4" stroke-width="1"/><rect x="332" y="376.10" width="147.20" height="9.6" fill="#4472c4"/><rect x="332" y="402.68" width="116.78" height="9.6" fill="#4472c4"/><rect x="332" y="429.26" width="113.11" height="9.6" fill="#4472c4"/><rect x="332" y="455.84" width="109.45" height="9.6" fill="#4472c4"/><rect x="332" y="482.42" width="105.78" height="9.6" fill="#4472c4"/><rect x="332" y="509.00" width="98.45" height="9.6" fill="#4472c4"/><rect x="332" y="535.58" width="87.46" height="9.6" fill="#4472c4"/><rect x="332" y="562.16" width="87.46" height="9.6" fill="#4472c4"/><rect x="332" y="588.74" width="69.14" height="9.6" fill="#4472c4"/><rect x="332" y="615.32" width="69.14" height="9.6" fill="#4472c4"/><path d="M464.8 386.2 L400.6 614.8" stroke="#4472c4" stroke-width="1.7" stroke-dasharray="1.7 2.6" fill="none"/></svg>
<span class="t" style="left:323.00px;top:644.00px;font-size:10.9px;color:#595959;transform:scaleX(0.9457);">130</span>
<span class="t" style="left:359.65px;top:644.00px;font-size:10.9px;color:#595959;transform:scaleX(0.9457);">140</span>
<span class="t" style="left:396.30px;top:644.00px;font-size:10.9px;color:#595959;transform:scaleX(0.9457);">150</span>
<span class="t" style="left:432.95px;top:644.00px;font-size:10.9px;color:#595959;transform:scaleX(0.9457);">160</span>
<span class="t" style="left:469.60px;top:644.00px;font-size:10.9px;color:#595959;transform:scaleX(0.9457);">170</span>
<span class="t" style="left:506.25px;top:644.00px;font-size:10.9px;color:#595959;transform:scaleX(0.9457);">180</span>
<div class="panel" style="position:absolute;left:547.20px;top:317.00px;width:336.20px;height:169.20px;"></div>
<span class="t" style="left:697.50px;top:332.00px;font-size:16.6px;color:#5c5c5c;transform:scaleX(1.0096);">Total</span>
<span class="t" style="left:862.40px;top:368.00px;font-size:10.9px;color:#595959;transform:scaleX(0.8803);">A</span>
<span class="t" style="left:862.40px;top:390.00px;font-size:10.9px;color:#595959;transform:scaleX(0.8803);">B</span>
<span class="t" style="left:862.40px;top:413.00px;font-size:10.9px;color:#595959;transform:scaleX(0.8130);">C</span>
<span class="t" style="left:862.40px;top:435.00px;font-size:10.9px;color:#595959;transform:scaleX(0.8130);">D</span>
<span class="t" style="left:862.40px;top:458.00px;font-size:10.9px;color:#595959;transform:scaleX(0.9612);">F</span>
<svg style="position:absolute;left:0.00px;top:0.00px;pointer-events:none;" width="1366" height="768" viewBox="0 0 1366 768"><path d="M696.6 419.1 L696.60 367.00 A52.1 52.1 0 0 1 746.21 403.17 Z" fill="#70ad47" stroke="#fff" stroke-width="1.7" stroke-linejoin="round"/><path d="M696.6 419.1 L746.21 403.17 A52.1 52.1 0 0 1 725.43 462.50 Z" fill="#5b9bd5" stroke="#fff" stroke-width="1.7" stroke-linejoin="round"/><path d="M696.6 419.1 L725.43 462.50 A52.1 52.1 0 0 1 666.72 461.78 Z" fill="#ffc000" stroke="#fff" stroke-width="1.7" stroke-linejoin="round"/><path d="M696.6 419.1 L666.72 461.78 A52.1 52.1 0 0 1 646.25 405.70 Z" fill="#43682b" stroke="#fff" stroke-width="1.7" stroke-linejoin="round"/><path d="M696.6 419.1 L646.25 405.70 A52.1 52.1 0 0 1 696.60 367.00 Z" fill="#255e91" stroke="#fff" stroke-width="1.7" stroke-linejoin="round"/><rect x="853.2" y="370.9" width="5.6" height="5.6" fill="#70ad47" stroke="#fbfcfe" stroke-width="1.4"/><rect x="853.2" y="393.0" width="5.6" height="5.6" fill="#5b9bd5" stroke="#fbfcfe" stroke-width="1.4"/><rect x="853.2" y="415.6" width="5.6" height="5.6" fill="#ffc000" stroke="#fbfcfe" stroke-width="1.4"/><rect x="853.2" y="438.1" width="5.6" height="5.6" fill="#43682b" stroke="#fbfcfe" stroke-width="1.4"/><rect x="853.2" y="460.5" width="5.6" height="5.6" fill="#255e91" stroke="#fbfcfe" stroke-width="1.4"/></svg>
<div class="panel" style="position:absolute;left:547.20px;top:493.80px;width:336.20px;height:171.00px;"></div>
<span class="t" style="left:555.20px;top:502.00px;font-size:10.9px;color:#595959;transform:scaleX(0.9567);">1000</span>
<span class="t" style="left:561.00px;top:523.00px;font-size:10.9px;color:#595959;transform:scaleX(0.9567);">800</span>
<span class="t" style="left:561.00px;top:543.00px;font-size:10.9px;color:#595959;transform:scaleX(0.9567);">600</span>
<span class="t" style="left:561.00px;top:564.00px;font-size:10.9px;color:#595959;transform:scaleX(0.9567);">400</span>
<span class="t" style="left:561.00px;top:584.00px;font-size:10.9px;color:#595959;transform:scaleX(0.9567);">200</span>
<span class="t" style="left:572.60px;top:605.00px;font-size:10.9px;color:#595959;transform:scaleX(0.9567);">0</span>
<svg style="position:absolute;left:0.00px;top:0.00px;pointer-events:none;" width="1366" height="768" viewBox="0 0 1366 768"><path d="M590.10 610.3 V657" stroke="#e6ebf5" stroke-width="1"/><path d="M645.62 610.3 V634" stroke="#e6ebf5" stroke-width="1"/><path d="M701.14 610.3 V634" stroke="#e6ebf5" stroke-width="1"/><path d="M756.66 610.3 V634" stroke="#e6ebf5" stroke-width="1"/><path d="M812.18 610.3 V657" stroke="#e6ebf5" stroke-width="1"/><path d="M867.70 610.3 V657" stroke="#e6ebf5" stroke-width="1"/><path d="M590.10 610.3 H867.70" stroke="#e3e8f3" stroke-width="1"/><path d="M617.2 534.4 L673.0 536.4 L728.8 533.4 L784.6 530.2 L839.8 610.4" fill="none" stroke="#4472c4" stroke-width="2.8" stroke-linejoin="round" stroke-linecap="round"/></svg>
<span class="t" style="left:606.60px;top:620.00px;font-size:10.9px;color:#595959;transform:scaleX(1.0189);">Qtr1</span>
<span class="t" style="left:662.12px;top:620.00px;font-size:10.9px;color:#595959;transform:scaleX(1.0189);">Qtr2</span>
<span class="t" style="left:717.64px;top:620.00px;font-size:10.9px;color:#595959;transform:scaleX(1.0189);">Qtr3</span>
<span class="t" style="left:773.16px;top:620.00px;font-size:10.9px;color:#595959;transform:scaleX(1.0189);">Qtr4</span>
<span class="t" style="left:828.68px;top:620.00px;font-size:10.9px;color:#595959;transform:scaleX(1.0189);">Qtr1</span>
<span class="t" style="left:689.00px;top:644.00px;font-size:10.9px;color:#595959;transform:scaleX(0.9485);">2023</span>
<span class="t" style="left:827.80px;top:644.00px;font-size:10.9px;color:#595959;transform:scaleX(0.9485);">2024</span>
<div class="panel" style="position:absolute;left:891.50px;top:395.40px;width:444.40px;height:269.30px;"></div>
<span class="t" style="left:900.00px;top:404.00px;font-size:10.9px;color:#595959;transform:scaleX(0.9457);">180</span>
<span class="t" style="left:900.00px;top:429.00px;font-size:10.9px;color:#595959;transform:scaleX(0.9457);">160</span>
<span class="t" style="left:900.00px;top:454.00px;font-size:10.9px;color:#595959;transform:scaleX(0.9457);">140</span>
<span class="t" style="left:900.00px;top:479.00px;font-size:10.9px;color:#595959;transform:scaleX(0.9457);">120</span>
<span class="t" style="left:900.00px;top:503.00px;font-size:10.9px;color:#595959;transform:scaleX(0.9457);">100</span>
<span class="t" style="left:905.60px;top:528.00px;font-size:10.9px;color:#595959;transform:scaleX(0.9567);">80</span>
<span class="t" style="left:905.60px;top:553.00px;font-size:10.9px;color:#595959;transform:scaleX(0.9567);">60</span>
<span class="t" style="left:905.60px;top:578.00px;font-size:10.9px;color:#595959;transform:scaleX(0.9567);">40</span>
<span class="t" style="left:905.60px;top:603.00px;font-size:10.9px;color:#595959;transform:scaleX(0.9567);">20</span>
<span class="t" style="left:911.40px;top:628.00px;font-size:10.9px;color:#595959;transform:scaleX(0.9567);">0</span>
<span class="t" style="left:950.50px;top:643.00px;font-size:10.9px;color:#595959;transform:scaleX(1.1043);">Arts</span>
<span class="t" style="left:1000.40px;top:643.00px;font-size:10.9px;color:#595959;transform:scaleX(0.9794);">Commerce</span>
<span class="t" style="left:1065.40px;top:643.00px;font-size:10.9px;color:#595959;transform:scaleX(1.0054);">Computers</span>
<span class="t" style="left:1133.80px;top:643.00px;font-size:10.9px;color:#595959;transform:scaleX(0.9818);">Education</span>
<span class="t" style="left:1213.40px;top:643.00px;font-size:10.9px;color:#595959;transform:scaleX(0.9502);">Law</span>
<span class="t" style="left:1286.00px;top:490.00px;font-size:10.9px;color:#595959;transform:scaleX(0.9628);">First</span>
<span class="t" style="left:1286.00px;top:512.00px;font-size:10.9px;color:#595959;transform:scaleX(1.0856);">Fourth</span>
<span class="t" style="left:1286.00px;top:535.00px;font-size:10.9px;color:#595959;transform:scaleX(0.9467);">Second</span>
<span class="t" style="left:1286.00px;top:557.00px;font-size:10.9px;color:#595959;transform:scaleX(0.9744);">Third</span>
<svg style="position:absolute;left:0.00px;top:0.00px;pointer-events:none;" width="1366" height="768" viewBox="0 0 1366 768"><path d="M929.1 633.7 H1255.8" stroke="#e6ebf5" stroke-width="1"/><path d="M929.1 633.7 V637.7" stroke="#e6ebf5" stroke-width="1"/><path d="M994.4 633.7 V637.7" stroke="#e6ebf5" stroke-width="1"/><path d="M1059.8 633.7 V637.7" stroke="#e6ebf5" stroke-width="1"/><path d="M1125.1 633.7 V637.7" stroke="#e6ebf5" stroke-width="1"/><path d="M1190.5 633.7 V637.7" stroke="#e6ebf5" stroke-width="1"/><path d="M1255.8 633.7 V637.7" stroke="#e6ebf5" stroke-width="1"/><rect x="939.10" y="426.08" width="9.9" height="207.12" fill="#70ad47"/><rect x="951.05" y="424.96" width="9.9" height="208.24" fill="#5b9bd5"/><rect x="963.00" y="467.57" width="9.9" height="165.63" fill="#ffc000"/><rect x="974.95" y="441.11" width="9.9" height="192.09" fill="#43682b"/><rect x="1004.60" y="453.29" width="9.9" height="179.91" fill="#70ad47"/><rect x="1016.55" y="470.18" width="9.9" height="163.02" fill="#5b9bd5"/><rect x="1028.50" y="450.93" width="9.9" height="182.27" fill="#ffc000"/><rect x="1040.45" y="450.93" width="9.9" height="182.27" fill="#43682b"/><rect x="1069.80" y="453.91" width="9.9" height="179.29" fill="#70ad47"/><rect x="1081.75" y="432.04" width="9.9" height="201.16" fill="#5b9bd5"/><rect x="1093.70" y="446.83" width="9.9" height="186.38" fill="#ffc000"/><rect x="1105.65" y="421.11" width="9.9" height="212.09" fill="#43682b"/><rect x="1135.10" y="425.21" width="9.9" height="207.99" fill="#70ad47"/><rect x="1147.05" y="422.22" width="9.9" height="210.98" fill="#5b9bd5"/><rect x="1159.00" y="432.04" width="9.9" height="201.16" fill="#ffc000"/><rect x="1170.95" y="456.27" width="9.9" height="176.93" fill="#43682b"/><rect x="1200.60" y="480.00" width="9.9" height="153.20" fill="#70ad47"/><rect x="1212.55" y="447.07" width="9.9" height="186.13" fill="#5b9bd5"/><rect x="1224.50" y="469.07" width="9.9" height="164.13" fill="#ffc000"/><rect x="1236.45" y="469.07" width="9.9" height="164.13" fill="#43682b"/><rect x="1276.6" y="492.0" width="6.4" height="6.4" fill="#70ad47"/><rect x="1276.6" y="514.3" width="6.4" height="6.4" fill="#5b9bd5"/><rect x="1276.6" y="536.9" width="6.4" height="6.4" fill="#ffc000"/><rect x="1276.6" y="559.2" width="6.4" height="6.4" fill="#43682b"/></svg>
<div style="position:absolute;left:0.00px;top:678.20px;width:1366.00px;height:28.20px;background:#e6e6e6;"></div>
<div style="position:absolute;left:0.00px;top:706.00px;width:1366.00px;height:1.00px;background:#bdbdbd;"></div>
<svg style="position:absolute;left:26.00px;top:686.50px;" width="6" height="9" viewBox="0 0 6 9"><path d="M5.4 .4 L.6 4.5 L5.4 8.6 Z" fill="#c6c6c6"/></svg>
<svg style="position:absolute;left:55.00px;top:686.50px;" width="6" height="9" viewBox="0 0 6 9"><path d="M.6 .4 L5.4 4.5 L.6 8.6 Z" fill="#c6c6c6"/></svg>
<div style="position:absolute;left:100.00px;top:682.00px;width:1.00px;height:19.60px;background:#b4b4b4;"></div>
<div style="position:absolute;left:165.00px;top:682.00px;width:1.00px;height:19.60px;background:#b4b4b4;"></div>
<div style="position:absolute;left:230.00px;top:682.00px;width:1.00px;height:19.60px;background:#b4b4b4;"></div>
<div style="position:absolute;left:295.00px;top:682.00px;width:1.00px;height:19.60px;background:#b4b4b4;"></div>
<span class="t" style="left:113.50px;top:686.00px;font-size:12.6px;color:#444;transform:scaleX(0.9265);">Sheet1</span>
<span class="t" style="left:178.50px;top:686.00px;font-size:12.6px;color:#444;transform:scaleX(0.9390);">Sheet2</span>
<span class="t" style="left:243.50px;top:686.00px;font-size:12.6px;color:#444;transform:scaleX(0.9390);">Sheet3</span>
<span class="t" style="left:308.50px;top:686.00px;font-size:12.6px;color:#444;transform:scaleX(0.9515);">Sheet5</span>
<div style="position:absolute;left:360.50px;top:678.20px;width:91.20px;height:24.60px;background:linear-gradient(#ffffff 0%,#f4fbfd 30%,#c9ecf4 65%,#9ddbe9 100%);"></div>
<div style="position:absolute;left:360.50px;top:701.40px;width:91.20px;height:1.80px;background:#1e7145;"></div>
<span class="t" style="left:372.70px;top:686.00px;font-size:12.8px;color:#1e7145;font-weight:bold;transform:scaleX(0.9797);">Dashboard</span>
<div style="position:absolute;left:454.00px;top:681.20px;width:80.20px;height:21.20px;background:#ffc107;"></div>
<span class="t" style="left:465.60px;top:686.00px;font-size:12.6px;color:#3a2d00;transform:scaleX(1.0083);">Questions</span>
<div style="position:absolute;left:535.80px;top:682.00px;width:1.00px;height:19.80px;background:#a8a8a8;"></div>
<svg style="position:absolute;left:569.50px;top:683.50px;" width="16" height="16" viewBox="0 0 16 16"><circle cx="8" cy="8" r="6.9" fill="none" stroke="#6a6a6a" stroke-width="1.1"/><path d="M8 4.4 V11.6 M4.4 8 H11.6" stroke="#555" stroke-width="1.3"/></svg>
<div style="position:absolute;left:819.00px;top:686.60px;width:1.60px;height:1.60px;background:#9a9a9a;"></div>
<div style="position:absolute;left:819.00px;top:691.60px;width:1.60px;height:1.60px;background:#9a9a9a;"></div>
<div style="position:absolute;left:819.00px;top:696.60px;width:1.60px;height:1.60px;background:#9a9a9a;"></div>
<div style="position:absolute;left:836.30px;top:685.60px;width:13.80px;height:13.80px;box-sizing:border-box;border:1px solid #9c9c9c;background:#fff;"></div>
<svg style="position:absolute;left:840.60px;top:689.40px;" width="5" height="6.4" viewBox="0 0 5 6.4"><path d="M5 0 L0 3.2 L5 6.4 Z" fill="#222"/></svg>
<div style="position:absolute;left:851.30px;top:685.60px;width:455.20px;height:13.80px;box-sizing:border-box;border:1px solid #9c9c9c;background:#fff;"></div>
<div style="position:absolute;left:1330.30px;top:685.60px;width:14.30px;height:13.80px;box-sizing:border-box;border:1px solid #9c9c9c;background:#fff;"></div>
<svg style="position:absolute;left:1335.20px;top:689.40px;" width="5" height="6.4" viewBox="0 0 5 6.4"><path d="M0 0 L5 3.2 L0 6.4 Z" fill="#222"/></svg>
<div style="position:absolute;left:0.00px;top:707.00px;width:1366.00px;height:20.60px;background:#f3f2f1;"></div>
<span class="t" style="left:7.00px;top:712.00px;font-size:11.6px;color:#444;transform:scaleX(0.9245);">Ready</span>
<svg style="position:absolute;left:57.50px;top:710.00px;" width="15" height="15" viewBox="0 0 15 15"><circle cx="7.4" cy="2.6" r="1.7" fill="none" stroke="#444" stroke-width="1"/><path d="M1.4 5.2 L5.6 6.4 H9.2 L13.4 5.2 M5.6 6.4 V9.4 L3.4 14 M9.2 6.4 V9.4 L11.4 14" fill="none" stroke="#444" stroke-width="1"/><path d="M1.2 8.6 L6 13.4 M6 8.6 L1.2 13.4" stroke="#444" stroke-width="1"/></svg>
<span class="t" style="left:76.00px;top:712.00px;font-size:11.4px;color:#444;transform:scaleX(0.9915);">Accessibility: Investigate</span>
<div style="position:absolute;left:1066.00px;top:707.00px;width:40.00px;height:20.60px;background:#d0d0d0;"></div>
<svg style="position:absolute;left:1077.50px;top:709.50px;" width="15" height="15" viewBox="0 0 15 15"><rect x=".6" y=".6" width="13.8" height="13.8" fill="none" stroke="#333" stroke-width="1.1"/><path d="M5.2 .6 V14.4 M9.8 .6 V14.4 M.6 5.2 H14.4 M.6 9.8 H14.4" stroke="#333" stroke-width="1"/></svg>
<svg style="position:absolute;left:1118.50px;top:709.50px;" width="15" height="15" viewBox="0 0 15 15"><rect x=".6" y=".6" width="13.8" height="13.8" fill="none" stroke="#444" stroke-width="1.1"/><rect x="3.4" y="3.4" width="8.2" height="8.2" fill="none" stroke="#444" stroke-width="1"/><path d="M5 6 H10 M5 8.6 H10" stroke="#444" stroke-width=".9"/></svg>
<svg style="position:absolute;left:1158.50px;top:709.50px;" width="15" height="15" viewBox="0 0 15 15"><rect x=".6" y=".6" width="13.8" height="13.8" fill="none" stroke="#444" stroke-width="1.1"/><path d="M4.2 .6 V8 H10.8 V.6" fill="none" stroke="#444" stroke-width="1"/></svg>
<div style="position:absolute;left:1192.50px;top:716.70px;width:7.00px;height:1.10px;background:#555;"></div>
<div style="position:absolute;left:1205.50px;top:716.70px;width:99.00px;height:1.10px;background:#666;"></div>
<div style="position:absolute;left:1253.60px;top:711.60px;width:3.60px;height:11.20px;background:#333;"></div>
<svg style="position:absolute;left:1308.50px;top:712.50px;" width="10" height="10" viewBox="0 0 10 10"><path d="M5 .5 V9.5 M.5 5 H9.5" stroke="#555" stroke-width="1.1"/></svg>
<span class="t" style="left:1331.50px;top:712.00px;font-size:11.4px;color:#555;transform:scaleX(0.8951);">100%</span>
<div style="position:absolute;left:0.00px;top:727.60px;width:1366.00px;height:40.40px;background:#d3e5f2;"></div>
<div style="position:absolute;left:0.00px;top:727.60px;width:1366.00px;height:1.00px;background:#e3eef6;"></div>
<svg style="position:absolute;left:16.00px;top:740.00px;" width="17" height="17" viewBox="0 0 17 17"><g fill="#0b0b0b"><path d="M0 2.4 L6.8 1.4 V7.9 H0 Z"/><path d="M7.8 1.3 L16.6 0 V7.9 H7.8 Z"/><path d="M0 8.9 H6.8 V15.4 L0 14.4 Z"/><path d="M7.8 8.9 H16.6 V16.8 L7.8 15.5 Z"/></g></svg>
<svg style="position:absolute;left:62.00px;top:737.00px;" width="19" height="22" viewBox="0 0 19 22"><path d="M3 1.2 L9.6 .4 Q10.6 .4 10.6 1.6 V20 Q10.6 21 9.6 21 L3 19.6 Z" fill="#f5d66b"/><path d="M7.4 2.2 L13.4 2.8 V19.4 L7.4 20.4 Z" fill="#fbe9a4"/><path d="M3 1.2 V19.6" stroke="#e0b93f" stroke-width="1.2"/></svg>
<span class="t" style="left:89.00px;top:742.00px;font-size:12.6px;color:#111;transform:scaleX(0.9169);">Data Analysis</span>
<div style="position:absolute;left:55.00px;top:765.00px;width:151.00px;height:3.00px;background:#1c7ad0;"></div>
<svg style="position:absolute;left:223.00px;top:735.50px;" width="27" height="27" viewBox="0 0 27 27"><path d="M9.4 17.2 L3.2 23.6" stroke="#6b3208" stroke-width="6" stroke-linecap="round"/><circle cx="15.4" cy="10.4" r="8" fill="none" stroke="#6b3208" stroke-width="5"/><path d="M9.4 17.2 L3.2 23.6" stroke="#f08a1e" stroke-width="4.2" stroke-linecap="round"/><circle cx="15.4" cy="10.4" r="8" fill="none" stroke="#f08a1e" stroke-width="3.4"/></svg>
<svg style="position:absolute;left:272.50px;top:735.50px;" width="24" height="25" viewBox="0 0 24 25"><defs><linearGradient id="ff" x1=".85" y1=".1" x2=".15" y2=".95"><stop offset="0" stop-color="#ffe14a"/><stop offset=".4" stop-color="#ff9c1f"/><stop offset=".75" stop-color="#ff4a3a"/><stop offset="1" stop-color="#f0307a"/></linearGradient></defs><path d="M12 2.8 Q14 1.2 15.4 .6 Q15.4 2.6 17 3.8 Q22.6 6.4 23 13 Q22.6 21.6 13.6 24 Q4.4 24.6 1.2 16.4 Q0 11 2.8 7.4 Q2.8 5.4 3.8 4.2 Q4.6 5.6 6 5.8 Q8.6 3.2 12 2.8 Z" fill="url(#ff)"/><circle cx="12.4" cy="12.8" r="5.6" fill="#6d35c8"/><path d="M6.4 10.6 Q9 8.4 12.4 9.4 Q10.2 10.4 10 12.4 Q10.4 15.4 13.6 15.8 Q16.8 15.4 17.6 12.6 Q19.4 17.2 15.4 19.8 Q10 21.6 6.8 17.6 Q5 14 6.4 10.6 Z" fill="#ff8a2a"/><path d="M13.6 .8 Q15 3.4 17.6 4.6 Q21.6 7 22.2 11 Q20 7.4 16.4 7.2 Q14.6 4.4 13.6 .8 Z" fill="#ffe86a"/></svg>
<svg style="position:absolute;left:322.00px;top:736.50px;" width="24" height="24" viewBox="0 0 24 24"><path d="M17 .6 L20 2 L5.4 17.4 L2.4 16.6 L.8 14.8 Z" fill="#1f86d4"/><path d="M17 23.4 L20 22 L5.4 6.6 L2.4 7.4 L.8 9.2 Z" fill="#1a7acb"/><path d="M17 .6 L23.2 3.4 V20.6 L17 23.4 Z" fill="#2b9af0"/><path d="M17 7 V17 L10.6 12 Z" fill="#d3e5f2" opacity=".0"/></svg>
<svg style="position:absolute;left:372.00px;top:735.50px;" width="22" height="26" viewBox="0 0 22 26"><defs><linearGradient id="bz" x1="0" y1="0" x2="1" y2="0"><stop offset="0" stop-color="#1747b8"/><stop offset=".6" stop-color="#1f78e0"/><stop offset="1" stop-color="#1747b8"/></linearGradient></defs><path d="M2.2 6 Q2 1.2 11 1 Q20 1.2 19.8 6 Q19.6 9.4 11 9.6 Q2.4 9.4 2.2 6 Z" fill="url(#bz)"/><path d="M2.2 20 Q2 24.8 11 25 Q20 24.8 19.8 20 Q19.6 16.6 11 16.4 Q2.4 16.6 2.2 20 Z" fill="url(#bz)"/><path d="M3.4 9 Q11 11.6 18.6 9 Q20 13 18.6 17 Q11 14.4 3.4 17 Q2 13 3.4 9 Z" fill="#8fd6f6"/><path d="M3 11.4 Q11 15 19 11.4 L19 14.6 Q11 11.2 3 14.6 Z" fill="#2f8fe6"/></svg>
<svg style="position:absolute;left:417.00px;top:736.00px;" width="25" height="25" viewBox="0 0 25 25"><defs><linearGradient id="eg" x1=".9" y1=".1" x2=".1" y2=".9"><stop offset="0" stop-color="#5be07a"/><stop offset=".35" stop-color="#35c1b1"/><stop offset=".6" stop-color="#1e8fd6"/><stop offset="1" stop-color="#0c4f9c"/></linearGradient></defs><circle cx="12.4" cy="12.4" r="11.9" fill="url(#eg)"/><path d="M6.4 14.4 Q6 9 11.4 8.4 Q15.6 8.6 15.4 12 Q15 15.4 19 15.8 Q23.4 15.6 24.2 12 Q24.4 17.6 19.4 20.8 Q13 23.4 8.4 19.6 Q6.4 17.4 6.4 14.4 Z" fill="#d3e5f2"/><path d="M1 14.6 Q1.6 8.6 7.4 7.2 Q12 6.6 14.4 9.6 Q11.6 8.2 9 9.8 Q6.2 12 7 15.8 Q8.4 20.8 14 22.4 Q8 25 3.4 20 Q1.2 17.4 1 14.6 Z" fill="#0f5cab"/></svg>
<span class="t" style="left:446.50px;top:742.00px;font-size:12.6px;color:#111;transform:scaleX(0.9206);font-family:&quot;DejaVu Sans&quot;,sans-serif;">إضافة معرض الأعما...</span>
<div style="position:absolute;left:412.50px;top:765.00px;width:151.00px;height:3.00px;background:#1c7ad0;"></div>
<svg style="position:absolute;left:578.00px;top:736.00px;" width="25" height="25" viewBox="0 0 25 25"><circle cx="12.4" cy="12.4" r="11.8" fill="#fff"/><path d="M12.4 12.4 L2.2 6.5 A11.8 11.8 0 0 1 22.6 6.5 Z" fill="#e33b2e"/><path d="M12.4 12.4 L22.6 6.5 A11.8 11.8 0 0 1 12.4 24.2 Z" fill="#fcc934"/><path d="M12.4 12.4 L12.4 24.2 A11.8 11.8 0 0 1 2.2 6.5 Z" fill="#2ba24c"/><circle cx="12.4" cy="12.4" r="5.6" fill="#fff"/><circle cx="12.4" cy="12.4" r="4.4" fill="#3f86f3"/></svg>
<span class="t" style="left:607.50px;top:742.00px;font-size:12.6px;color:#111;transform:scaleX(0.9088);">(23) WhatsApp - G...</span>
<div style="position:absolute;left:573.50px;top:765.00px;width:152.00px;height:3.00px;background:#1c7ad0;"></div>
<svg style="position:absolute;left:739.50px;top:737.00px;" width="25" height="23" viewBox="0 0 25 23"><circle cx="19" cy="5.6" r="3" fill="#5b5fc7"/><circle cx="12.4" cy="4.4" r="3.8" fill="#7b83eb"/><path d="M15.6 9 H23.6 Q24.6 9 24.6 10 V15.6 Q24.2 19.4 20.6 19.4 Q17 19.4 15.6 16 Z" fill="#5b5fc7"/><path d="M7.4 9 H17.4 Q18.4 9 18.4 10 V17 Q18 22.4 12.8 22.6 Q7.6 22.4 7.4 17 Z" fill="#7b83eb"/><rect x=".6" y="5.6" width="12.4" height="12.4" rx="1.2" fill="#4b53bc"/><path d="M3.6 8.8 H10 M6.8 8.8 V15.2" stroke="#fff" stroke-width="1.6"/></svg>
<span class="t" style="left:768.00px;top:742.00px;font-size:12.6px;color:#111;transform:scaleX(0.9497);">Microsoft Teams - ...</span>
<div style="position:absolute;left:734.50px;top:765.00px;width:151.00px;height:3.00px;background:#1c7ad0;"></div>
<div style="position:absolute;left:890.70px;top:727.60px;width:160.20px;height:40.40px;background:#e7f0f8;"></div>
<svg style="position:absolute;left:900.50px;top:737.00px;" width="25" height="23" viewBox="0 0 25 23"><path d="M8 .6 H23.4 Q24.4 .6 24.4 1.6 V21 Q24.4 22 23.4 22 H8 Z" fill="#21a366"/><path d="M8 .6 H16.2 V6 H8 Z" fill="#21a366"/><path d="M16.2 .6 H23.4 Q24.4 .6 24.4 1.6 V6 H16.2 Z" fill="#33c481"/><path d="M8 6 H16.2 V11.4 H8 Z" fill="#107c41"/><path d="M16.2 6 H24.4 V11.4 H16.2 Z" fill="#21a366"/><path d="M8 11.4 H16.2 V16.8 H8 Z" fill="#185c37"/><path d="M16.2 11.4 H24.4 V16.8 H16.2 Z" fill="#107c41"/><path d="M8 16.8 H24.4 V21 Q24.4 22 23.4 22 H8 Z" fill="#185c37"/><rect x=".6" y="5" width="13" height="13" rx="1.2" fill="#107c41"/><path d="M4 8 L10.2 15 M10.2 8 L4 15" stroke="#fff" stroke-width="1.7"/></svg>
<span class="t" style="left:929.00px;top:742.00px;font-size:12.6px;color:#111;transform:scaleX(0.9126);">Assignment_Excel(...</span>
<div style="position:absolute;left:890.70px;top:764.80px;width:160.20px;height:3.20px;background:#1c7ad0;"></div>
<svg style="position:absolute;left:1123.00px;top:743.00px;" width="13" height="8" viewBox="0 0 13 8"><path d="M.8 7 L6.4 1.2 L12 7" fill="none" stroke="#111" stroke-width="1.5"/></svg>
<svg style="position:absolute;left:1145.00px;top:741.50px;" width="18" height="12" viewBox="0 0 18 12"><rect x="4.4" y="1.6" width="11.6" height="8" fill="none" stroke="#111" stroke-width="1.2"/><rect x="5.8" y="3" width="8.8" height="5.2" fill="#111"/><path d="M16.6 4 H17.6 V7.2 H16.6" fill="none" stroke="#111" stroke-width="1"/><path d="M0 5.4 H4 M1.6 3.4 V7.6 M3 2.8 V8.2" stroke="#111" stroke-width="1.1"/></svg>
<svg style="position:absolute;left:1169.00px;top:741.00px;" width="17" height="13" viewBox="0 0 17 13"><path d="M.8 4.4 H3.6 L7.2 1 V12 L3.6 8.6 H.8 Z" fill="none" stroke="#111" stroke-width="1.1"/><path d="M9.4 4.2 Q10.8 6.5 9.4 8.8 M11.6 2.6 Q14 6.5 11.6 10.4 M13.8 1 Q17.2 6.5 13.8 12" fill="none" stroke="#111" stroke-width="1.05"/></svg>
<svg style="position:absolute;left:1196.00px;top:742.00px;" width="14" height="13" viewBox="0 0 14 13"><g fill="none" stroke="#111" stroke-width="1.3"><path d="M1.4 10.6 Q1.6 2 11.4 1.2" /><path d="M4.8 11.4 Q5 5.4 11.8 4.6" stroke="#444"/><path d="M8 12 Q8.2 8.6 12 8"/></g><circle cx="11" cy="11.4" r="1.3" fill="#111"/></svg>
<span class="t" style="left:1227.80px;top:742.00px;font-size:12.6px;color:#111;transform:scaleX(0.7447);font-family:&quot;DejaVu Sans&quot;,sans-serif;">ع</span>
<span class="t" style="left:1257.00px;top:734.00px;font-size:11.8px;color:#111;transform:scaleX(0.9404);">10:38 PM</span>
<span class="t" style="left:1258.00px;top:752.00px;font-size:11.8px;color:#111;transform:scaleX(1.0123);">4/5/2026</span>
<svg style="position:absolute;left:1324.00px;top:739.50px;" width="18" height="18" viewBox="0 0 18 18"><path d="M.8 .8 H16.4 V12.4 H10.6 L8.6 15.6 L6.6 12.4 H.8 Z" fill="none" stroke="#111" stroke-width="1.2" stroke-linejoin="round"/></svg>
<span class="t" style="left:600.00px;top:668.00px;font-size:64px;color:rgba(110,110,115,.10);font-weight:bold;transform:scaleX(0.7093);font-family:&quot;DejaVu Sans&quot;,sans-serif;">مستقل</span>
<span class="t" style="left:600.00px;top:727.00px;font-size:28px;color:rgba(110,110,120,.10);font-weight:bold;transform:scaleX(0.9612);">mostaql.com</span>
</body></html>
